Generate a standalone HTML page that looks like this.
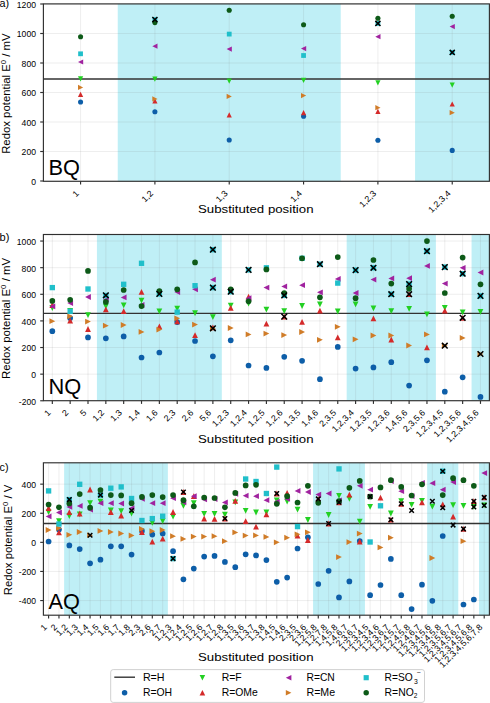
<!DOCTYPE html>
<html><head><meta charset="utf-8"><style>html,body{margin:0;padding:0;background:#fff;}svg{display:block;}</style></head>
<body>
<svg width="490" height="703" viewBox="0 0 490 703" font-family='"Liberation Sans", sans-serif'>
<rect width="490" height="703" fill="#fff"/>
<rect x="117.73" y="3.90" width="223.00" height="177.40" fill="#bfeff6"/>
<rect x="415.07" y="3.90" width="74.33" height="177.40" fill="#bfeff6"/>
<line x1="43.4" x2="489.4" y1="181.00" y2="181.00" stroke="#808080" stroke-opacity="0.15" stroke-width="0.9"/>
<line x1="43.4" x2="489.4" y1="151.50" y2="151.50" stroke="#808080" stroke-opacity="0.15" stroke-width="0.9"/>
<line x1="43.4" x2="489.4" y1="122.00" y2="122.00" stroke="#808080" stroke-opacity="0.15" stroke-width="0.9"/>
<line x1="43.4" x2="489.4" y1="92.50" y2="92.50" stroke="#808080" stroke-opacity="0.15" stroke-width="0.9"/>
<line x1="43.4" x2="489.4" y1="63.00" y2="63.00" stroke="#808080" stroke-opacity="0.15" stroke-width="0.9"/>
<line x1="43.4" x2="489.4" y1="33.50" y2="33.50" stroke="#808080" stroke-opacity="0.15" stroke-width="0.9"/>
<line x1="43.4" x2="489.4" y1="4.00" y2="4.00" stroke="#808080" stroke-opacity="0.15" stroke-width="0.9"/>
<line x1="80.57" x2="80.57" y1="3.9" y2="181.3" stroke="#808080" stroke-opacity="0.15" stroke-width="0.9"/>
<line x1="154.90" x2="154.90" y1="3.9" y2="181.3" stroke="#808080" stroke-opacity="0.15" stroke-width="0.9"/>
<line x1="229.23" x2="229.23" y1="3.9" y2="181.3" stroke="#808080" stroke-opacity="0.15" stroke-width="0.9"/>
<line x1="303.57" x2="303.57" y1="3.9" y2="181.3" stroke="#808080" stroke-opacity="0.15" stroke-width="0.9"/>
<line x1="377.90" x2="377.90" y1="3.9" y2="181.3" stroke="#808080" stroke-opacity="0.15" stroke-width="0.9"/>
<line x1="452.23" x2="452.23" y1="3.9" y2="181.3" stroke="#808080" stroke-opacity="0.15" stroke-width="0.9"/>
<text x="48.60" y="174.60" font-size="22" textLength="31.41" lengthAdjust="spacingAndGlyphs" fill="#000">BQ</text>
<line x1="43.4" x2="489.4" y1="79.05" y2="79.05" stroke="#333" stroke-width="1.4"/>
<circle cx="80.57" cy="102.00" r="2.55" fill="#0d5ea8"/>
<path d="M80.57,81.50L83.17,76.30L77.97,76.30Z" fill="#22d022"/>
<path d="M80.57,91.70L83.17,96.90L77.97,96.90Z" fill="#d42a2a"/>
<path d="M77.97,62.00L83.17,59.40L83.17,64.60Z" fill="#a0229f"/>
<path d="M83.17,87.40L77.97,84.80L77.97,90.00Z" fill="#d07c28"/>
<rect x="78.17" y="51.41" width="4.78" height="4.78" fill="#20bfca"/>
<circle cx="80.57" cy="36.70" r="2.55" fill="#0d5a18"/>
<circle cx="154.90" cy="111.70" r="2.55" fill="#0d5ea8"/>
<path d="M154.90,81.70L157.50,76.50L152.30,76.50Z" fill="#22d022"/>
<path d="M154.90,98.20L157.50,103.40L152.30,103.40Z" fill="#d42a2a"/>
<path d="M152.30,46.20L157.50,43.60L157.50,48.80Z" fill="#a0229f"/>
<path d="M157.50,98.90L152.30,96.30L152.30,101.50Z" fill="#d07c28"/>
<rect x="152.51" y="17.21" width="4.78" height="4.78" fill="#20bfca"/>
<circle cx="154.90" cy="22.60" r="2.55" fill="#0d5a18"/>
<path d="M152.35,17.05L157.45,22.15M157.45,17.05L152.35,22.15" stroke="#000" stroke-width="1.5" fill="none"/>
<circle cx="229.23" cy="140.00" r="2.55" fill="#0d5ea8"/>
<path d="M229.23,83.70L231.83,78.50L226.63,78.50Z" fill="#22d022"/>
<path d="M229.23,112.20L231.83,117.40L226.63,117.40Z" fill="#d42a2a"/>
<path d="M226.63,49.10L231.83,46.50L231.83,51.70Z" fill="#a0229f"/>
<path d="M231.83,96.40L226.63,93.80L226.63,99.00Z" fill="#d07c28"/>
<rect x="226.84" y="31.71" width="4.78" height="4.78" fill="#20bfca"/>
<circle cx="229.23" cy="10.20" r="2.55" fill="#0d5a18"/>
<circle cx="303.57" cy="116.30" r="2.55" fill="#0d5ea8"/>
<path d="M303.57,83.00L306.17,77.80L300.97,77.80Z" fill="#22d022"/>
<path d="M303.57,110.10L306.17,115.30L300.97,115.30Z" fill="#d42a2a"/>
<path d="M300.97,48.60L306.17,46.00L306.17,51.20Z" fill="#a0229f"/>
<path d="M306.17,95.60L300.97,93.00L300.97,98.20Z" fill="#d07c28"/>
<rect x="301.17" y="53.11" width="4.78" height="4.78" fill="#20bfca"/>
<circle cx="303.57" cy="24.70" r="2.55" fill="#0d5a18"/>
<circle cx="377.90" cy="140.20" r="2.55" fill="#0d5ea8"/>
<path d="M377.90,85.40L380.50,80.20L375.30,80.20Z" fill="#22d022"/>
<path d="M377.90,108.80L380.50,114.00L375.30,114.00Z" fill="#d42a2a"/>
<path d="M375.30,36.70L380.50,34.10L380.50,39.30Z" fill="#a0229f"/>
<path d="M380.50,107.70L375.30,105.10L375.30,110.30Z" fill="#d07c28"/>
<rect x="375.51" y="21.01" width="4.78" height="4.78" fill="#20bfca"/>
<circle cx="377.90" cy="18.20" r="2.55" fill="#0d5a18"/>
<path d="M375.35,20.85L380.45,25.95M380.45,20.85L375.35,25.95" stroke="#000" stroke-width="1.5" fill="none"/>
<circle cx="452.23" cy="150.40" r="2.55" fill="#0d5ea8"/>
<path d="M452.23,87.70L454.83,82.50L449.63,82.50Z" fill="#22d022"/>
<path d="M452.23,101.40L454.83,106.60L449.63,106.60Z" fill="#d42a2a"/>
<path d="M449.63,26.60L454.83,24.00L454.83,29.20Z" fill="#a0229f"/>
<path d="M454.83,112.70L449.63,110.10L449.63,115.30Z" fill="#d07c28"/>
<rect x="449.84" y="50.01" width="4.78" height="4.78" fill="#20bfca"/>
<circle cx="452.23" cy="16.20" r="2.55" fill="#0d5a18"/>
<path d="M449.69,49.85L454.78,54.95M454.78,49.85L449.69,54.95" stroke="#000" stroke-width="1.5" fill="none"/>
<rect x="43.4" y="3.9" width="446.0" height="177.4" fill="none" stroke="#303030" stroke-width="1.15"/>
<line x1="40.199999999999996" x2="43.4" y1="181.00" y2="181.00" stroke="#303030" stroke-width="1.15"/>
<text x="36.00" y="184.90" font-size="8.5" text-anchor="end" textLength="4.80" lengthAdjust="spacingAndGlyphs" fill="#000">0</text>
<line x1="40.199999999999996" x2="43.4" y1="151.50" y2="151.50" stroke="#303030" stroke-width="1.15"/>
<text x="36.00" y="155.40" font-size="8.5" text-anchor="end" textLength="14.41" lengthAdjust="spacingAndGlyphs" fill="#000">200</text>
<line x1="40.199999999999996" x2="43.4" y1="122.00" y2="122.00" stroke="#303030" stroke-width="1.15"/>
<text x="36.00" y="125.90" font-size="8.5" text-anchor="end" textLength="14.41" lengthAdjust="spacingAndGlyphs" fill="#000">400</text>
<line x1="40.199999999999996" x2="43.4" y1="92.50" y2="92.50" stroke="#303030" stroke-width="1.15"/>
<text x="36.00" y="96.40" font-size="8.5" text-anchor="end" textLength="14.41" lengthAdjust="spacingAndGlyphs" fill="#000">600</text>
<line x1="40.199999999999996" x2="43.4" y1="63.00" y2="63.00" stroke="#303030" stroke-width="1.15"/>
<text x="36.00" y="66.90" font-size="8.5" text-anchor="end" textLength="14.41" lengthAdjust="spacingAndGlyphs" fill="#000">800</text>
<line x1="40.199999999999996" x2="43.4" y1="33.50" y2="33.50" stroke="#303030" stroke-width="1.15"/>
<text x="36.00" y="37.40" font-size="8.5" text-anchor="end" textLength="19.21" lengthAdjust="spacingAndGlyphs" fill="#000">1000</text>
<line x1="40.199999999999996" x2="43.4" y1="4.00" y2="4.00" stroke="#303030" stroke-width="1.15"/>
<text x="36.00" y="7.90" font-size="8.5" text-anchor="end" textLength="19.21" lengthAdjust="spacingAndGlyphs" fill="#000">1200</text>
<line x1="80.57" x2="80.57" y1="181.3" y2="184.5" stroke="#303030" stroke-width="1.15"/>
<text transform="translate(79.47,193.90) rotate(-45)" x="0" y="0" font-size="8.6" text-anchor="end" textLength="4.96" lengthAdjust="spacingAndGlyphs" fill="#000">1</text>
<line x1="154.90" x2="154.90" y1="181.3" y2="184.5" stroke="#303030" stroke-width="1.15"/>
<text transform="translate(153.80,193.90) rotate(-45)" x="0" y="0" font-size="8.6" text-anchor="end" textLength="12.40" lengthAdjust="spacingAndGlyphs" fill="#000">1,2</text>
<line x1="229.23" x2="229.23" y1="181.3" y2="184.5" stroke="#303030" stroke-width="1.15"/>
<text transform="translate(228.13,193.90) rotate(-45)" x="0" y="0" font-size="8.6" text-anchor="end" textLength="12.40" lengthAdjust="spacingAndGlyphs" fill="#000">1,3</text>
<line x1="303.57" x2="303.57" y1="181.3" y2="184.5" stroke="#303030" stroke-width="1.15"/>
<text transform="translate(302.47,193.90) rotate(-45)" x="0" y="0" font-size="8.6" text-anchor="end" textLength="12.40" lengthAdjust="spacingAndGlyphs" fill="#000">1,4</text>
<line x1="377.90" x2="377.90" y1="181.3" y2="184.5" stroke="#303030" stroke-width="1.15"/>
<text transform="translate(376.80,193.90) rotate(-45)" x="0" y="0" font-size="8.6" text-anchor="end" textLength="19.84" lengthAdjust="spacingAndGlyphs" fill="#000">1,2,3</text>
<line x1="452.23" x2="452.23" y1="181.3" y2="184.5" stroke="#303030" stroke-width="1.15"/>
<text transform="translate(451.13,193.90) rotate(-45)" x="0" y="0" font-size="8.6" text-anchor="end" textLength="27.28" lengthAdjust="spacingAndGlyphs" fill="#000">1,2,3,4</text>
<text x="-0.5" y="7.3" font-size="10.4" textLength="9.60" lengthAdjust="spacingAndGlyphs" fill="#000">a)</text>
<text x="198.0" y="212.80" font-size="11.3" textLength="115.5" lengthAdjust="spacingAndGlyphs" fill="#000">Substituted position</text>
<g transform="translate(10.2,93.60) rotate(-90)"><text x="0" y="0" font-size="10.6" text-anchor="middle" fill="#000" textLength="120.5" lengthAdjust="spacingAndGlyphs">Redox potential E<tspan font-size="7.3" dy="-4.2">0</tspan><tspan dy="4.2"> / mV</tspan></text></g>
<rect x="96.92" y="234.50" width="124.88" height="166.20" fill="#bfeff6"/>
<rect x="346.68" y="234.50" width="89.20" height="166.20" fill="#bfeff6"/>
<rect x="471.56" y="234.50" width="17.84" height="166.20" fill="#bfeff6"/>
<line x1="43.4" x2="489.4" y1="400.77" y2="400.77" stroke="#808080" stroke-opacity="0.15" stroke-width="0.9"/>
<line x1="43.4" x2="489.4" y1="374.15" y2="374.15" stroke="#808080" stroke-opacity="0.15" stroke-width="0.9"/>
<line x1="43.4" x2="489.4" y1="347.53" y2="347.53" stroke="#808080" stroke-opacity="0.15" stroke-width="0.9"/>
<line x1="43.4" x2="489.4" y1="320.91" y2="320.91" stroke="#808080" stroke-opacity="0.15" stroke-width="0.9"/>
<line x1="43.4" x2="489.4" y1="294.29" y2="294.29" stroke="#808080" stroke-opacity="0.15" stroke-width="0.9"/>
<line x1="43.4" x2="489.4" y1="267.67" y2="267.67" stroke="#808080" stroke-opacity="0.15" stroke-width="0.9"/>
<line x1="43.4" x2="489.4" y1="241.05" y2="241.05" stroke="#808080" stroke-opacity="0.15" stroke-width="0.9"/>
<line x1="52.32" x2="52.32" y1="234.5" y2="400.7" stroke="#808080" stroke-opacity="0.15" stroke-width="0.9"/>
<line x1="70.16" x2="70.16" y1="234.5" y2="400.7" stroke="#808080" stroke-opacity="0.15" stroke-width="0.9"/>
<line x1="88.00" x2="88.00" y1="234.5" y2="400.7" stroke="#808080" stroke-opacity="0.15" stroke-width="0.9"/>
<line x1="105.84" x2="105.84" y1="234.5" y2="400.7" stroke="#808080" stroke-opacity="0.15" stroke-width="0.9"/>
<line x1="123.68" x2="123.68" y1="234.5" y2="400.7" stroke="#808080" stroke-opacity="0.15" stroke-width="0.9"/>
<line x1="141.52" x2="141.52" y1="234.5" y2="400.7" stroke="#808080" stroke-opacity="0.15" stroke-width="0.9"/>
<line x1="159.36" x2="159.36" y1="234.5" y2="400.7" stroke="#808080" stroke-opacity="0.15" stroke-width="0.9"/>
<line x1="177.20" x2="177.20" y1="234.5" y2="400.7" stroke="#808080" stroke-opacity="0.15" stroke-width="0.9"/>
<line x1="195.04" x2="195.04" y1="234.5" y2="400.7" stroke="#808080" stroke-opacity="0.15" stroke-width="0.9"/>
<line x1="212.88" x2="212.88" y1="234.5" y2="400.7" stroke="#808080" stroke-opacity="0.15" stroke-width="0.9"/>
<line x1="230.72" x2="230.72" y1="234.5" y2="400.7" stroke="#808080" stroke-opacity="0.15" stroke-width="0.9"/>
<line x1="248.56" x2="248.56" y1="234.5" y2="400.7" stroke="#808080" stroke-opacity="0.15" stroke-width="0.9"/>
<line x1="266.40" x2="266.40" y1="234.5" y2="400.7" stroke="#808080" stroke-opacity="0.15" stroke-width="0.9"/>
<line x1="284.24" x2="284.24" y1="234.5" y2="400.7" stroke="#808080" stroke-opacity="0.15" stroke-width="0.9"/>
<line x1="302.08" x2="302.08" y1="234.5" y2="400.7" stroke="#808080" stroke-opacity="0.15" stroke-width="0.9"/>
<line x1="319.92" x2="319.92" y1="234.5" y2="400.7" stroke="#808080" stroke-opacity="0.15" stroke-width="0.9"/>
<line x1="337.76" x2="337.76" y1="234.5" y2="400.7" stroke="#808080" stroke-opacity="0.15" stroke-width="0.9"/>
<line x1="355.60" x2="355.60" y1="234.5" y2="400.7" stroke="#808080" stroke-opacity="0.15" stroke-width="0.9"/>
<line x1="373.44" x2="373.44" y1="234.5" y2="400.7" stroke="#808080" stroke-opacity="0.15" stroke-width="0.9"/>
<line x1="391.28" x2="391.28" y1="234.5" y2="400.7" stroke="#808080" stroke-opacity="0.15" stroke-width="0.9"/>
<line x1="409.12" x2="409.12" y1="234.5" y2="400.7" stroke="#808080" stroke-opacity="0.15" stroke-width="0.9"/>
<line x1="426.96" x2="426.96" y1="234.5" y2="400.7" stroke="#808080" stroke-opacity="0.15" stroke-width="0.9"/>
<line x1="444.80" x2="444.80" y1="234.5" y2="400.7" stroke="#808080" stroke-opacity="0.15" stroke-width="0.9"/>
<line x1="462.64" x2="462.64" y1="234.5" y2="400.7" stroke="#808080" stroke-opacity="0.15" stroke-width="0.9"/>
<line x1="480.48" x2="480.48" y1="234.5" y2="400.7" stroke="#808080" stroke-opacity="0.15" stroke-width="0.9"/>
<text x="48.60" y="394.00" font-size="22" textLength="32.73" lengthAdjust="spacingAndGlyphs" fill="#000">NQ</text>
<line x1="43.4" x2="489.4" y1="313.40" y2="313.40" stroke="#333" stroke-width="1.4"/>
<circle cx="52.32" cy="331.20" r="2.84" fill="#0d5ea8"/>
<path d="M52.32,310.90L55.22,305.10L49.42,305.10Z" fill="#22d022"/>
<path d="M52.32,302.10L55.22,307.90L49.42,307.90Z" fill="#d42a2a"/>
<path d="M49.42,306.40L55.22,303.50L55.22,309.30Z" fill="#a0229f"/>
<path d="M55.22,321.20L49.42,318.30L49.42,324.10Z" fill="#d07c28"/>
<rect x="49.65" y="284.93" width="5.34" height="5.34" fill="#20bfca"/>
<circle cx="52.32" cy="300.90" r="2.84" fill="#0d5a18"/>
<circle cx="70.16" cy="318.00" r="2.84" fill="#0d5ea8"/>
<path d="M70.16,313.90L73.06,308.10L67.26,308.10Z" fill="#22d022"/>
<path d="M70.16,317.80L73.06,323.60L67.26,323.60Z" fill="#d42a2a"/>
<path d="M67.26,303.10L73.06,300.20L73.06,306.00Z" fill="#a0229f"/>
<path d="M73.06,316.30L67.26,313.40L67.26,319.20Z" fill="#d07c28"/>
<rect x="67.49" y="308.63" width="5.34" height="5.34" fill="#20bfca"/>
<circle cx="70.16" cy="299.80" r="2.84" fill="#0d5a18"/>
<circle cx="88.00" cy="337.40" r="2.84" fill="#0d5ea8"/>
<path d="M88.00,318.10L90.90,312.30L85.10,312.30Z" fill="#22d022"/>
<path d="M88.00,326.10L90.90,331.90L85.10,331.90Z" fill="#d42a2a"/>
<path d="M85.10,297.00L90.90,294.10L90.90,299.90Z" fill="#a0229f"/>
<path d="M90.90,321.60L85.10,318.70L85.10,324.50Z" fill="#d07c28"/>
<rect x="85.33" y="286.33" width="5.34" height="5.34" fill="#20bfca"/>
<circle cx="88.00" cy="270.90" r="2.84" fill="#0d5a18"/>
<circle cx="105.84" cy="338.30" r="2.84" fill="#0d5ea8"/>
<path d="M105.84,309.30L108.74,303.50L102.94,303.50Z" fill="#22d022"/>
<path d="M105.84,306.40L108.74,312.20L102.94,312.20Z" fill="#d42a2a"/>
<path d="M102.94,299.60L108.74,296.70L108.74,302.50Z" fill="#a0229f"/>
<path d="M108.74,325.70L102.94,322.80L102.94,328.60Z" fill="#d07c28"/>
<rect x="103.17" y="292.83" width="5.34" height="5.34" fill="#20bfca"/>
<circle cx="105.84" cy="301.90" r="2.84" fill="#0d5a18"/>
<path d="M103.00,292.46L108.68,298.14M108.68,292.46L103.00,298.14" stroke="#000" stroke-width="1.5" fill="none"/>
<circle cx="123.68" cy="336.40" r="2.84" fill="#0d5ea8"/>
<path d="M123.68,308.20L126.58,302.40L120.78,302.40Z" fill="#22d022"/>
<path d="M123.68,308.20L126.58,314.00L120.78,314.00Z" fill="#d42a2a"/>
<path d="M120.78,297.40L126.58,294.50L126.58,300.30Z" fill="#a0229f"/>
<path d="M126.58,325.00L120.78,322.10L120.78,327.90Z" fill="#d07c28"/>
<rect x="121.01" y="281.63" width="5.34" height="5.34" fill="#20bfca"/>
<circle cx="123.68" cy="290.00" r="2.84" fill="#0d5a18"/>
<circle cx="141.52" cy="357.50" r="2.84" fill="#0d5ea8"/>
<path d="M141.52,303.60L144.42,297.80L138.62,297.80Z" fill="#22d022"/>
<path d="M141.52,289.00L144.42,294.80L138.62,294.80Z" fill="#d42a2a"/>
<path d="M138.62,305.00L144.42,302.10L144.42,307.90Z" fill="#a0229f"/>
<path d="M144.42,331.90L138.62,329.00L138.62,334.80Z" fill="#d07c28"/>
<rect x="138.85" y="260.63" width="5.34" height="5.34" fill="#20bfca"/>
<circle cx="141.52" cy="306.10" r="2.84" fill="#0d5a18"/>
<circle cx="159.36" cy="352.50" r="2.84" fill="#0d5ea8"/>
<path d="M159.36,314.30L162.26,308.50L156.46,308.50Z" fill="#22d022"/>
<path d="M159.36,323.50L162.26,329.30L156.46,329.30Z" fill="#d42a2a"/>
<path d="M162.26,329.60L156.46,326.70L156.46,332.50Z" fill="#d07c28"/>
<rect x="156.69" y="291.23" width="5.34" height="5.34" fill="#20bfca"/>
<circle cx="159.36" cy="291.00" r="2.84" fill="#0d5a18"/>
<path d="M156.52,291.06L162.20,296.74M162.20,291.06L156.52,296.74" stroke="#000" stroke-width="1.5" fill="none"/>
<circle cx="177.20" cy="322.10" r="2.84" fill="#0d5ea8"/>
<path d="M177.20,311.50L180.10,305.70L174.30,305.70Z" fill="#22d022"/>
<path d="M177.20,318.50L180.10,324.30L174.30,324.30Z" fill="#d42a2a"/>
<path d="M174.30,292.10L180.10,289.20L180.10,295.00Z" fill="#a0229f"/>
<path d="M180.10,318.30L174.30,315.40L174.30,321.20Z" fill="#d07c28"/>
<rect x="174.53" y="309.43" width="5.34" height="5.34" fill="#20bfca"/>
<circle cx="177.20" cy="289.30" r="2.84" fill="#0d5a18"/>
<circle cx="195.04" cy="341.00" r="2.84" fill="#0d5ea8"/>
<path d="M195.04,316.00L197.94,310.20L192.14,310.20Z" fill="#22d022"/>
<path d="M195.04,332.20L197.94,338.00L192.14,338.00Z" fill="#d42a2a"/>
<path d="M192.14,289.30L197.94,286.40L197.94,292.20Z" fill="#a0229f"/>
<path d="M197.94,324.60L192.14,321.70L192.14,327.50Z" fill="#d07c28"/>
<rect x="192.37" y="283.03" width="5.34" height="5.34" fill="#20bfca"/>
<circle cx="195.04" cy="262.40" r="2.84" fill="#0d5a18"/>
<circle cx="212.88" cy="356.30" r="2.84" fill="#0d5ea8"/>
<path d="M212.88,320.00L215.78,314.20L209.98,314.20Z" fill="#22d022"/>
<path d="M212.88,324.50L215.78,330.30L209.98,330.30Z" fill="#d42a2a"/>
<path d="M209.98,279.70L215.78,276.80L215.78,282.60Z" fill="#a0229f"/>
<path d="M215.78,328.50L209.98,325.60L209.98,331.40Z" fill="#d07c28"/>
<rect x="210.21" y="247.03" width="5.34" height="5.34" fill="#20bfca"/>
<rect x="210.21" y="284.93" width="5.34" height="5.34" fill="#20bfca"/>
<path d="M210.04,246.86L215.72,252.54M215.72,246.86L210.04,252.54" stroke="#000" stroke-width="1.5" fill="none"/>
<path d="M210.04,284.76L215.72,290.44M215.72,284.76L210.04,290.44" stroke="#000" stroke-width="1.5" fill="none"/>
<path d="M210.04,325.46L215.72,331.14M215.72,325.46L210.04,331.14" stroke="#000" stroke-width="1.5" fill="none"/>
<circle cx="230.72" cy="340.30" r="2.84" fill="#0d5ea8"/>
<path d="M230.72,308.60L233.62,302.80L227.82,302.80Z" fill="#22d022"/>
<path d="M230.72,305.00L233.62,310.80L227.82,310.80Z" fill="#d42a2a"/>
<path d="M233.62,328.00L227.82,325.10L227.82,330.90Z" fill="#d07c28"/>
<rect x="228.05" y="289.03" width="5.34" height="5.34" fill="#20bfca"/>
<circle cx="230.72" cy="289.30" r="2.84" fill="#0d5a18"/>
<path d="M227.88,288.86L233.56,294.54M233.56,288.86L227.88,294.54" stroke="#000" stroke-width="1.5" fill="none"/>
<circle cx="248.56" cy="365.50" r="2.84" fill="#0d5ea8"/>
<path d="M248.56,306.60L251.46,300.80L245.66,300.80Z" fill="#22d022"/>
<path d="M248.56,293.70L251.46,299.50L245.66,299.50Z" fill="#d42a2a"/>
<path d="M245.66,298.20L251.46,295.30L251.46,301.10Z" fill="#a0229f"/>
<path d="M251.46,334.40L245.66,331.50L245.66,337.30Z" fill="#d07c28"/>
<rect x="245.89" y="267.23" width="5.34" height="5.34" fill="#20bfca"/>
<circle cx="248.56" cy="301.30" r="2.84" fill="#0d5a18"/>
<path d="M245.72,267.06L251.40,272.74M251.40,267.06L245.72,272.74" stroke="#000" stroke-width="1.5" fill="none"/>
<circle cx="266.40" cy="367.90" r="2.84" fill="#0d5ea8"/>
<path d="M266.40,312.50L269.30,306.70L263.50,306.70Z" fill="#22d022"/>
<path d="M266.40,320.80L269.30,326.60L263.50,326.60Z" fill="#d42a2a"/>
<path d="M263.50,287.60L269.30,284.70L269.30,290.50Z" fill="#a0229f"/>
<path d="M269.30,333.60L263.50,330.70L263.50,336.50Z" fill="#d07c28"/>
<rect x="263.73" y="265.13" width="5.34" height="5.34" fill="#20bfca"/>
<circle cx="266.40" cy="269.40" r="2.84" fill="#0d5a18"/>
<circle cx="284.24" cy="356.80" r="2.84" fill="#0d5ea8"/>
<path d="M284.24,314.10L287.14,308.30L281.34,308.30Z" fill="#22d022"/>
<path d="M284.24,313.70L287.14,319.50L281.34,319.50Z" fill="#d42a2a"/>
<path d="M281.34,286.40L287.14,283.50L287.14,289.30Z" fill="#a0229f"/>
<path d="M287.14,335.10L281.34,332.20L281.34,338.00Z" fill="#d07c28"/>
<rect x="281.57" y="292.73" width="5.34" height="5.34" fill="#20bfca"/>
<circle cx="284.24" cy="293.00" r="2.84" fill="#0d5a18"/>
<path d="M281.40,292.56L287.08,298.24M287.08,292.56L281.40,298.24" stroke="#000" stroke-width="1.5" fill="none"/>
<path d="M281.40,313.76L287.08,319.44M287.08,313.76L281.40,319.44" stroke="#000" stroke-width="1.5" fill="none"/>
<circle cx="302.08" cy="360.80" r="2.84" fill="#0d5ea8"/>
<path d="M302.08,308.90L304.98,303.10L299.18,303.10Z" fill="#22d022"/>
<path d="M302.08,318.90L304.98,324.70L299.18,324.70Z" fill="#d42a2a"/>
<path d="M299.18,285.20L304.98,282.30L304.98,288.10Z" fill="#a0229f"/>
<path d="M304.98,332.00L299.18,329.10L299.18,334.90Z" fill="#d07c28"/>
<rect x="299.41" y="255.63" width="5.34" height="5.34" fill="#20bfca"/>
<circle cx="302.08" cy="258.30" r="2.84" fill="#0d5a18"/>
<circle cx="319.92" cy="379.20" r="2.84" fill="#0d5ea8"/>
<path d="M319.92,307.30L322.82,301.50L317.02,301.50Z" fill="#22d022"/>
<path d="M319.92,307.80L322.82,313.60L317.02,313.60Z" fill="#d42a2a"/>
<path d="M317.02,292.30L322.82,289.40L322.82,295.20Z" fill="#a0229f"/>
<path d="M322.82,339.80L317.02,336.90L317.02,342.70Z" fill="#d07c28"/>
<rect x="317.25" y="261.53" width="5.34" height="5.34" fill="#20bfca"/>
<circle cx="319.92" cy="297.30" r="2.84" fill="#0d5a18"/>
<path d="M317.08,261.36L322.76,267.04M322.76,261.36L317.08,267.04" stroke="#000" stroke-width="1.5" fill="none"/>
<circle cx="337.76" cy="346.90" r="2.84" fill="#0d5ea8"/>
<path d="M337.76,314.40L340.66,308.60L334.86,308.60Z" fill="#22d022"/>
<path d="M337.76,334.50L340.66,340.30L334.86,340.30Z" fill="#d42a2a"/>
<path d="M334.86,278.90L340.66,276.00L340.66,281.80Z" fill="#a0229f"/>
<path d="M340.66,326.80L334.86,323.90L334.86,329.70Z" fill="#d07c28"/>
<rect x="335.09" y="280.43" width="5.34" height="5.34" fill="#20bfca"/>
<circle cx="337.76" cy="257.10" r="2.84" fill="#0d5a18"/>
<circle cx="355.60" cy="368.60" r="2.84" fill="#0d5ea8"/>
<path d="M355.60,307.30L358.50,301.50L352.70,301.50Z" fill="#22d022"/>
<path d="M352.70,293.00L358.50,290.10L358.50,295.90Z" fill="#a0229f"/>
<path d="M358.50,339.30L352.70,336.40L352.70,342.20Z" fill="#d07c28"/>
<rect x="352.93" y="267.43" width="5.34" height="5.34" fill="#20bfca"/>
<circle cx="355.60" cy="298.20" r="2.84" fill="#0d5a18"/>
<path d="M352.76,267.26L358.44,272.94M358.44,267.26L352.76,272.94" stroke="#000" stroke-width="1.5" fill="none"/>
<circle cx="373.44" cy="367.40" r="2.84" fill="#0d5ea8"/>
<path d="M373.44,311.30L376.34,305.50L370.54,305.50Z" fill="#22d022"/>
<path d="M373.44,315.40L376.34,321.20L370.54,321.20Z" fill="#d42a2a"/>
<path d="M370.54,279.60L376.34,276.70L376.34,282.50Z" fill="#a0229f"/>
<path d="M376.34,335.50L370.54,332.60L370.54,338.40Z" fill="#d07c28"/>
<rect x="370.77" y="265.13" width="5.34" height="5.34" fill="#20bfca"/>
<circle cx="373.44" cy="260.00" r="2.84" fill="#0d5a18"/>
<path d="M370.60,264.96L376.28,270.64M376.28,264.96L370.60,270.64" stroke="#000" stroke-width="1.5" fill="none"/>
<circle cx="391.28" cy="362.20" r="2.84" fill="#0d5ea8"/>
<path d="M391.28,314.10L394.18,308.30L388.38,308.30Z" fill="#22d022"/>
<path d="M391.28,336.60L394.18,342.40L388.38,342.40Z" fill="#d42a2a"/>
<path d="M388.38,278.40L394.18,275.50L394.18,281.30Z" fill="#a0229f"/>
<path d="M394.18,335.50L388.38,332.60L388.38,338.40Z" fill="#d07c28"/>
<rect x="388.61" y="291.53" width="5.34" height="5.34" fill="#20bfca"/>
<circle cx="391.28" cy="283.60" r="2.84" fill="#0d5a18"/>
<path d="M388.44,291.36L394.12,297.04M394.12,291.36L388.44,297.04" stroke="#000" stroke-width="1.5" fill="none"/>
<circle cx="409.12" cy="385.60" r="2.84" fill="#0d5ea8"/>
<path d="M409.12,311.80L412.02,306.00L406.22,306.00Z" fill="#22d022"/>
<path d="M409.12,291.30L412.02,297.10L406.22,297.10Z" fill="#d42a2a"/>
<path d="M406.22,278.20L412.02,275.30L412.02,281.10Z" fill="#a0229f"/>
<path d="M412.02,345.50L406.22,342.60L406.22,348.40Z" fill="#d07c28"/>
<rect x="406.45" y="281.43" width="5.34" height="5.34" fill="#20bfca"/>
<circle cx="409.12" cy="288.80" r="2.84" fill="#0d5a18"/>
<path d="M406.28,281.26L411.96,286.94M411.96,281.26L406.28,286.94" stroke="#000" stroke-width="1.5" fill="none"/>
<path d="M406.28,291.36L411.96,297.04M411.96,291.36L406.28,297.04" stroke="#000" stroke-width="1.5" fill="none"/>
<circle cx="426.96" cy="360.30" r="2.84" fill="#0d5ea8"/>
<path d="M426.96,317.20L429.86,311.40L424.06,311.40Z" fill="#22d022"/>
<path d="M426.96,344.40L429.86,350.20L424.06,350.20Z" fill="#d42a2a"/>
<path d="M424.06,265.90L429.86,263.00L429.86,268.80Z" fill="#a0229f"/>
<path d="M429.86,334.40L424.06,331.50L424.06,337.30Z" fill="#d07c28"/>
<rect x="424.29" y="248.53" width="5.34" height="5.34" fill="#20bfca"/>
<circle cx="426.96" cy="241.10" r="2.84" fill="#0d5a18"/>
<path d="M424.12,248.36L429.80,254.04M429.80,248.36L424.12,254.04" stroke="#000" stroke-width="1.5" fill="none"/>
<circle cx="444.80" cy="391.70" r="2.84" fill="#0d5ea8"/>
<path d="M444.80,310.80L447.70,305.00L441.90,305.00Z" fill="#22d022"/>
<path d="M444.80,307.80L447.70,313.60L441.90,313.60Z" fill="#d42a2a"/>
<path d="M441.90,283.60L447.70,280.70L447.70,286.50Z" fill="#a0229f"/>
<path d="M447.70,345.70L441.90,342.80L441.90,348.60Z" fill="#d07c28"/>
<rect x="442.13" y="264.43" width="5.34" height="5.34" fill="#20bfca"/>
<circle cx="444.80" cy="293.00" r="2.84" fill="#0d5a18"/>
<path d="M441.96,264.26L447.64,269.94M447.64,264.26L441.96,269.94" stroke="#000" stroke-width="1.5" fill="none"/>
<path d="M441.96,342.86L447.64,348.54M447.64,342.86L441.96,348.54" stroke="#000" stroke-width="1.5" fill="none"/>
<circle cx="462.64" cy="377.30" r="2.84" fill="#0d5ea8"/>
<path d="M462.64,315.30L465.54,309.50L459.74,309.50Z" fill="#22d022"/>
<path d="M462.64,314.90L465.54,320.70L459.74,320.70Z" fill="#d42a2a"/>
<path d="M459.74,267.80L465.54,264.90L465.54,270.70Z" fill="#a0229f"/>
<path d="M465.54,337.90L459.74,335.00L459.74,340.80Z" fill="#d07c28"/>
<rect x="459.97" y="271.03" width="5.34" height="5.34" fill="#20bfca"/>
<circle cx="462.64" cy="257.60" r="2.84" fill="#0d5a18"/>
<path d="M459.80,270.86L465.48,276.54M465.48,270.86L459.80,276.54" stroke="#000" stroke-width="1.5" fill="none"/>
<path d="M459.80,314.96L465.48,320.64M465.48,314.96L459.80,320.64" stroke="#000" stroke-width="1.5" fill="none"/>
<circle cx="480.48" cy="396.90" r="2.84" fill="#0d5ea8"/>
<path d="M480.48,314.80L483.38,309.00L477.58,309.00Z" fill="#22d022"/>
<path d="M477.58,272.50L483.38,269.60L483.38,275.40Z" fill="#a0229f"/>
<path d="M483.38,354.00L477.58,351.10L477.58,356.90Z" fill="#d07c28"/>
<rect x="477.81" y="293.23" width="5.34" height="5.34" fill="#20bfca"/>
<circle cx="480.48" cy="284.30" r="2.84" fill="#0d5a18"/>
<path d="M477.64,293.06L483.32,298.74M483.32,293.06L477.64,298.74" stroke="#000" stroke-width="1.5" fill="none"/>
<path d="M477.64,351.16L483.32,356.84M483.32,351.16L477.64,356.84" stroke="#000" stroke-width="1.5" fill="none"/>
<rect x="43.4" y="234.5" width="446.0" height="166.2" fill="none" stroke="#303030" stroke-width="1.15"/>
<line x1="40.199999999999996" x2="43.4" y1="400.77" y2="400.77" stroke="#303030" stroke-width="1.15"/>
<text x="36.00" y="404.67" font-size="8.5" text-anchor="end" textLength="17.13" lengthAdjust="spacingAndGlyphs" fill="#000">-200</text>
<line x1="40.199999999999996" x2="43.4" y1="374.15" y2="374.15" stroke="#303030" stroke-width="1.15"/>
<text x="36.00" y="378.05" font-size="8.5" text-anchor="end" textLength="4.80" lengthAdjust="spacingAndGlyphs" fill="#000">0</text>
<line x1="40.199999999999996" x2="43.4" y1="347.53" y2="347.53" stroke="#303030" stroke-width="1.15"/>
<text x="36.00" y="351.43" font-size="8.5" text-anchor="end" textLength="14.41" lengthAdjust="spacingAndGlyphs" fill="#000">200</text>
<line x1="40.199999999999996" x2="43.4" y1="320.91" y2="320.91" stroke="#303030" stroke-width="1.15"/>
<text x="36.00" y="324.81" font-size="8.5" text-anchor="end" textLength="14.41" lengthAdjust="spacingAndGlyphs" fill="#000">400</text>
<line x1="40.199999999999996" x2="43.4" y1="294.29" y2="294.29" stroke="#303030" stroke-width="1.15"/>
<text x="36.00" y="298.19" font-size="8.5" text-anchor="end" textLength="14.41" lengthAdjust="spacingAndGlyphs" fill="#000">600</text>
<line x1="40.199999999999996" x2="43.4" y1="267.67" y2="267.67" stroke="#303030" stroke-width="1.15"/>
<text x="36.00" y="271.57" font-size="8.5" text-anchor="end" textLength="14.41" lengthAdjust="spacingAndGlyphs" fill="#000">800</text>
<line x1="40.199999999999996" x2="43.4" y1="241.05" y2="241.05" stroke="#303030" stroke-width="1.15"/>
<text x="36.00" y="244.95" font-size="8.5" text-anchor="end" textLength="19.21" lengthAdjust="spacingAndGlyphs" fill="#000">1000</text>
<line x1="52.32" x2="52.32" y1="400.7" y2="403.9" stroke="#303030" stroke-width="1.15"/>
<text transform="translate(51.22,413.30) rotate(-45)" x="0" y="0" font-size="8.6" text-anchor="end" textLength="4.96" lengthAdjust="spacingAndGlyphs" fill="#000">1</text>
<line x1="70.16" x2="70.16" y1="400.7" y2="403.9" stroke="#303030" stroke-width="1.15"/>
<text transform="translate(69.06,413.30) rotate(-45)" x="0" y="0" font-size="8.6" text-anchor="end" textLength="4.96" lengthAdjust="spacingAndGlyphs" fill="#000">2</text>
<line x1="88.00" x2="88.00" y1="400.7" y2="403.9" stroke="#303030" stroke-width="1.15"/>
<text transform="translate(86.90,413.30) rotate(-45)" x="0" y="0" font-size="8.6" text-anchor="end" textLength="4.96" lengthAdjust="spacingAndGlyphs" fill="#000">5</text>
<line x1="105.84" x2="105.84" y1="400.7" y2="403.9" stroke="#303030" stroke-width="1.15"/>
<text transform="translate(104.74,413.30) rotate(-45)" x="0" y="0" font-size="8.6" text-anchor="end" textLength="12.40" lengthAdjust="spacingAndGlyphs" fill="#000">1,2</text>
<line x1="123.68" x2="123.68" y1="400.7" y2="403.9" stroke="#303030" stroke-width="1.15"/>
<text transform="translate(122.58,413.30) rotate(-45)" x="0" y="0" font-size="8.6" text-anchor="end" textLength="12.40" lengthAdjust="spacingAndGlyphs" fill="#000">1,3</text>
<line x1="141.52" x2="141.52" y1="400.7" y2="403.9" stroke="#303030" stroke-width="1.15"/>
<text transform="translate(140.42,413.30) rotate(-45)" x="0" y="0" font-size="8.6" text-anchor="end" textLength="12.40" lengthAdjust="spacingAndGlyphs" fill="#000">1,4</text>
<line x1="159.36" x2="159.36" y1="400.7" y2="403.9" stroke="#303030" stroke-width="1.15"/>
<text transform="translate(158.26,413.30) rotate(-45)" x="0" y="0" font-size="8.6" text-anchor="end" textLength="12.40" lengthAdjust="spacingAndGlyphs" fill="#000">1,6</text>
<line x1="177.20" x2="177.20" y1="400.7" y2="403.9" stroke="#303030" stroke-width="1.15"/>
<text transform="translate(176.10,413.30) rotate(-45)" x="0" y="0" font-size="8.6" text-anchor="end" textLength="12.40" lengthAdjust="spacingAndGlyphs" fill="#000">2,3</text>
<line x1="195.04" x2="195.04" y1="400.7" y2="403.9" stroke="#303030" stroke-width="1.15"/>
<text transform="translate(193.94,413.30) rotate(-45)" x="0" y="0" font-size="8.6" text-anchor="end" textLength="12.40" lengthAdjust="spacingAndGlyphs" fill="#000">2,6</text>
<line x1="212.88" x2="212.88" y1="400.7" y2="403.9" stroke="#303030" stroke-width="1.15"/>
<text transform="translate(211.78,413.30) rotate(-45)" x="0" y="0" font-size="8.6" text-anchor="end" textLength="12.40" lengthAdjust="spacingAndGlyphs" fill="#000">5,6</text>
<line x1="230.72" x2="230.72" y1="400.7" y2="403.9" stroke="#303030" stroke-width="1.15"/>
<text transform="translate(229.62,413.30) rotate(-45)" x="0" y="0" font-size="8.6" text-anchor="end" textLength="19.84" lengthAdjust="spacingAndGlyphs" fill="#000">1,2,3</text>
<line x1="248.56" x2="248.56" y1="400.7" y2="403.9" stroke="#303030" stroke-width="1.15"/>
<text transform="translate(247.46,413.30) rotate(-45)" x="0" y="0" font-size="8.6" text-anchor="end" textLength="19.84" lengthAdjust="spacingAndGlyphs" fill="#000">1,2,4</text>
<line x1="266.40" x2="266.40" y1="400.7" y2="403.9" stroke="#303030" stroke-width="1.15"/>
<text transform="translate(265.30,413.30) rotate(-45)" x="0" y="0" font-size="8.6" text-anchor="end" textLength="19.84" lengthAdjust="spacingAndGlyphs" fill="#000">1,2,5</text>
<line x1="284.24" x2="284.24" y1="400.7" y2="403.9" stroke="#303030" stroke-width="1.15"/>
<text transform="translate(283.14,413.30) rotate(-45)" x="0" y="0" font-size="8.6" text-anchor="end" textLength="19.84" lengthAdjust="spacingAndGlyphs" fill="#000">1,2,6</text>
<line x1="302.08" x2="302.08" y1="400.7" y2="403.9" stroke="#303030" stroke-width="1.15"/>
<text transform="translate(300.98,413.30) rotate(-45)" x="0" y="0" font-size="8.6" text-anchor="end" textLength="19.84" lengthAdjust="spacingAndGlyphs" fill="#000">1,3,5</text>
<line x1="319.92" x2="319.92" y1="400.7" y2="403.9" stroke="#303030" stroke-width="1.15"/>
<text transform="translate(318.82,413.30) rotate(-45)" x="0" y="0" font-size="8.6" text-anchor="end" textLength="19.84" lengthAdjust="spacingAndGlyphs" fill="#000">1,4,6</text>
<line x1="337.76" x2="337.76" y1="400.7" y2="403.9" stroke="#303030" stroke-width="1.15"/>
<text transform="translate(336.66,413.30) rotate(-45)" x="0" y="0" font-size="8.6" text-anchor="end" textLength="19.84" lengthAdjust="spacingAndGlyphs" fill="#000">2,3,5</text>
<line x1="355.60" x2="355.60" y1="400.7" y2="403.9" stroke="#303030" stroke-width="1.15"/>
<text transform="translate(354.50,413.30) rotate(-45)" x="0" y="0" font-size="8.6" text-anchor="end" textLength="27.28" lengthAdjust="spacingAndGlyphs" fill="#000">1,2,3,4</text>
<line x1="373.44" x2="373.44" y1="400.7" y2="403.9" stroke="#303030" stroke-width="1.15"/>
<text transform="translate(372.34,413.30) rotate(-45)" x="0" y="0" font-size="8.6" text-anchor="end" textLength="27.28" lengthAdjust="spacingAndGlyphs" fill="#000">1,2,3,5</text>
<line x1="391.28" x2="391.28" y1="400.7" y2="403.9" stroke="#303030" stroke-width="1.15"/>
<text transform="translate(390.18,413.30) rotate(-45)" x="0" y="0" font-size="8.6" text-anchor="end" textLength="27.28" lengthAdjust="spacingAndGlyphs" fill="#000">1,2,3,6</text>
<line x1="409.12" x2="409.12" y1="400.7" y2="403.9" stroke="#303030" stroke-width="1.15"/>
<text transform="translate(408.02,413.30) rotate(-45)" x="0" y="0" font-size="8.6" text-anchor="end" textLength="27.28" lengthAdjust="spacingAndGlyphs" fill="#000">1,4,5,6</text>
<line x1="426.96" x2="426.96" y1="400.7" y2="403.9" stroke="#303030" stroke-width="1.15"/>
<text transform="translate(425.86,413.30) rotate(-45)" x="0" y="0" font-size="8.6" text-anchor="end" textLength="27.28" lengthAdjust="spacingAndGlyphs" fill="#000">2,3,5,6</text>
<line x1="444.80" x2="444.80" y1="400.7" y2="403.9" stroke="#303030" stroke-width="1.15"/>
<text transform="translate(443.70,413.30) rotate(-45)" x="0" y="0" font-size="8.6" text-anchor="end" textLength="34.73" lengthAdjust="spacingAndGlyphs" fill="#000">1,2,3,4,5</text>
<line x1="462.64" x2="462.64" y1="400.7" y2="403.9" stroke="#303030" stroke-width="1.15"/>
<text transform="translate(461.54,413.30) rotate(-45)" x="0" y="0" font-size="8.6" text-anchor="end" textLength="34.73" lengthAdjust="spacingAndGlyphs" fill="#000">1,2,3,5,6</text>
<line x1="480.48" x2="480.48" y1="400.7" y2="403.9" stroke="#303030" stroke-width="1.15"/>
<text transform="translate(479.38,413.30) rotate(-45)" x="0" y="0" font-size="8.6" text-anchor="end" textLength="42.17" lengthAdjust="spacingAndGlyphs" fill="#000">1,2,3,4,5,6</text>
<text x="-0.5" y="240.5" font-size="10.4" textLength="9.81" lengthAdjust="spacingAndGlyphs" fill="#000">b)</text>
<text x="198.0" y="442.90" font-size="11.3" textLength="115.5" lengthAdjust="spacingAndGlyphs" fill="#000">Substituted position</text>
<g transform="translate(10.1,318.40) rotate(-90)"><text x="0" y="0" font-size="10.6" text-anchor="middle" fill="#000" textLength="121.0" lengthAdjust="spacingAndGlyphs">Redox potential E<tspan font-size="7.3" dy="-4.2">0</tspan><tspan dy="4.2"> / mV</tspan></text></g>
<rect x="64.14" y="462.80" width="103.72" height="152.40" fill="#bfeff6"/>
<rect x="313.07" y="462.80" width="51.86" height="152.40" fill="#bfeff6"/>
<rect x="427.17" y="462.80" width="31.12" height="152.40" fill="#bfeff6"/>
<rect x="479.03" y="462.80" width="10.37" height="152.40" fill="#bfeff6"/>
<line x1="43.4" x2="489.4" y1="600.55" y2="600.55" stroke="#808080" stroke-opacity="0.15" stroke-width="0.9"/>
<line x1="43.4" x2="489.4" y1="571.45" y2="571.45" stroke="#808080" stroke-opacity="0.15" stroke-width="0.9"/>
<line x1="43.4" x2="489.4" y1="542.35" y2="542.35" stroke="#808080" stroke-opacity="0.15" stroke-width="0.9"/>
<line x1="43.4" x2="489.4" y1="513.25" y2="513.25" stroke="#808080" stroke-opacity="0.15" stroke-width="0.9"/>
<line x1="43.4" x2="489.4" y1="484.15" y2="484.15" stroke="#808080" stroke-opacity="0.15" stroke-width="0.9"/>
<line x1="48.59" x2="48.59" y1="462.8" y2="615.2" stroke="#808080" stroke-opacity="0.15" stroke-width="0.9"/>
<line x1="58.96" x2="58.96" y1="462.8" y2="615.2" stroke="#808080" stroke-opacity="0.15" stroke-width="0.9"/>
<line x1="69.33" x2="69.33" y1="462.8" y2="615.2" stroke="#808080" stroke-opacity="0.15" stroke-width="0.9"/>
<line x1="79.70" x2="79.70" y1="462.8" y2="615.2" stroke="#808080" stroke-opacity="0.15" stroke-width="0.9"/>
<line x1="90.07" x2="90.07" y1="462.8" y2="615.2" stroke="#808080" stroke-opacity="0.15" stroke-width="0.9"/>
<line x1="100.45" x2="100.45" y1="462.8" y2="615.2" stroke="#808080" stroke-opacity="0.15" stroke-width="0.9"/>
<line x1="110.82" x2="110.82" y1="462.8" y2="615.2" stroke="#808080" stroke-opacity="0.15" stroke-width="0.9"/>
<line x1="121.19" x2="121.19" y1="462.8" y2="615.2" stroke="#808080" stroke-opacity="0.15" stroke-width="0.9"/>
<line x1="131.56" x2="131.56" y1="462.8" y2="615.2" stroke="#808080" stroke-opacity="0.15" stroke-width="0.9"/>
<line x1="141.93" x2="141.93" y1="462.8" y2="615.2" stroke="#808080" stroke-opacity="0.15" stroke-width="0.9"/>
<line x1="152.31" x2="152.31" y1="462.8" y2="615.2" stroke="#808080" stroke-opacity="0.15" stroke-width="0.9"/>
<line x1="162.68" x2="162.68" y1="462.8" y2="615.2" stroke="#808080" stroke-opacity="0.15" stroke-width="0.9"/>
<line x1="173.05" x2="173.05" y1="462.8" y2="615.2" stroke="#808080" stroke-opacity="0.15" stroke-width="0.9"/>
<line x1="183.42" x2="183.42" y1="462.8" y2="615.2" stroke="#808080" stroke-opacity="0.15" stroke-width="0.9"/>
<line x1="193.80" x2="193.80" y1="462.8" y2="615.2" stroke="#808080" stroke-opacity="0.15" stroke-width="0.9"/>
<line x1="204.17" x2="204.17" y1="462.8" y2="615.2" stroke="#808080" stroke-opacity="0.15" stroke-width="0.9"/>
<line x1="214.54" x2="214.54" y1="462.8" y2="615.2" stroke="#808080" stroke-opacity="0.15" stroke-width="0.9"/>
<line x1="224.91" x2="224.91" y1="462.8" y2="615.2" stroke="#808080" stroke-opacity="0.15" stroke-width="0.9"/>
<line x1="235.28" x2="235.28" y1="462.8" y2="615.2" stroke="#808080" stroke-opacity="0.15" stroke-width="0.9"/>
<line x1="245.66" x2="245.66" y1="462.8" y2="615.2" stroke="#808080" stroke-opacity="0.15" stroke-width="0.9"/>
<line x1="256.03" x2="256.03" y1="462.8" y2="615.2" stroke="#808080" stroke-opacity="0.15" stroke-width="0.9"/>
<line x1="266.40" x2="266.40" y1="462.8" y2="615.2" stroke="#808080" stroke-opacity="0.15" stroke-width="0.9"/>
<line x1="276.77" x2="276.77" y1="462.8" y2="615.2" stroke="#808080" stroke-opacity="0.15" stroke-width="0.9"/>
<line x1="287.14" x2="287.14" y1="462.8" y2="615.2" stroke="#808080" stroke-opacity="0.15" stroke-width="0.9"/>
<line x1="297.52" x2="297.52" y1="462.8" y2="615.2" stroke="#808080" stroke-opacity="0.15" stroke-width="0.9"/>
<line x1="307.89" x2="307.89" y1="462.8" y2="615.2" stroke="#808080" stroke-opacity="0.15" stroke-width="0.9"/>
<line x1="318.26" x2="318.26" y1="462.8" y2="615.2" stroke="#808080" stroke-opacity="0.15" stroke-width="0.9"/>
<line x1="328.63" x2="328.63" y1="462.8" y2="615.2" stroke="#808080" stroke-opacity="0.15" stroke-width="0.9"/>
<line x1="339.00" x2="339.00" y1="462.8" y2="615.2" stroke="#808080" stroke-opacity="0.15" stroke-width="0.9"/>
<line x1="349.38" x2="349.38" y1="462.8" y2="615.2" stroke="#808080" stroke-opacity="0.15" stroke-width="0.9"/>
<line x1="359.75" x2="359.75" y1="462.8" y2="615.2" stroke="#808080" stroke-opacity="0.15" stroke-width="0.9"/>
<line x1="370.12" x2="370.12" y1="462.8" y2="615.2" stroke="#808080" stroke-opacity="0.15" stroke-width="0.9"/>
<line x1="380.49" x2="380.49" y1="462.8" y2="615.2" stroke="#808080" stroke-opacity="0.15" stroke-width="0.9"/>
<line x1="390.87" x2="390.87" y1="462.8" y2="615.2" stroke="#808080" stroke-opacity="0.15" stroke-width="0.9"/>
<line x1="401.24" x2="401.24" y1="462.8" y2="615.2" stroke="#808080" stroke-opacity="0.15" stroke-width="0.9"/>
<line x1="411.61" x2="411.61" y1="462.8" y2="615.2" stroke="#808080" stroke-opacity="0.15" stroke-width="0.9"/>
<line x1="421.98" x2="421.98" y1="462.8" y2="615.2" stroke="#808080" stroke-opacity="0.15" stroke-width="0.9"/>
<line x1="432.35" x2="432.35" y1="462.8" y2="615.2" stroke="#808080" stroke-opacity="0.15" stroke-width="0.9"/>
<line x1="442.73" x2="442.73" y1="462.8" y2="615.2" stroke="#808080" stroke-opacity="0.15" stroke-width="0.9"/>
<line x1="453.10" x2="453.10" y1="462.8" y2="615.2" stroke="#808080" stroke-opacity="0.15" stroke-width="0.9"/>
<line x1="463.47" x2="463.47" y1="462.8" y2="615.2" stroke="#808080" stroke-opacity="0.15" stroke-width="0.9"/>
<line x1="473.84" x2="473.84" y1="462.8" y2="615.2" stroke="#808080" stroke-opacity="0.15" stroke-width="0.9"/>
<line x1="484.21" x2="484.21" y1="462.8" y2="615.2" stroke="#808080" stroke-opacity="0.15" stroke-width="0.9"/>
<text x="48.60" y="608.50" font-size="22" textLength="31.36" lengthAdjust="spacingAndGlyphs" fill="#000">AQ</text>
<line x1="43.4" x2="489.4" y1="523.50" y2="523.50" stroke="#333" stroke-width="1.4"/>
<circle cx="48.59" cy="541.50" r="2.84" fill="#0d5ea8"/>
<path d="M48.59,515.10L51.49,509.30L45.69,509.30Z" fill="#22d022"/>
<path d="M48.59,505.10L51.49,510.90L45.69,510.90Z" fill="#d42a2a"/>
<path d="M45.69,516.40L51.49,513.50L51.49,519.30Z" fill="#a0229f"/>
<path d="M51.49,530.00L45.69,527.10L45.69,532.90Z" fill="#d07c28"/>
<rect x="45.92" y="488.23" width="5.34" height="5.34" fill="#20bfca"/>
<circle cx="48.59" cy="504.50" r="2.84" fill="#0d5a18"/>
<circle cx="58.96" cy="529.60" r="2.84" fill="#0d5ea8"/>
<path d="M58.96,524.10L61.86,518.30L56.06,518.30Z" fill="#22d022"/>
<path d="M58.96,529.50L61.86,535.30L56.06,535.30Z" fill="#d42a2a"/>
<path d="M56.06,512.50L61.86,509.60L61.86,515.40Z" fill="#a0229f"/>
<path d="M61.86,528.20L56.06,525.30L56.06,531.10Z" fill="#d07c28"/>
<rect x="56.29" y="521.33" width="5.34" height="5.34" fill="#20bfca"/>
<circle cx="58.96" cy="507.30" r="2.84" fill="#0d5a18"/>
<circle cx="69.33" cy="545.40" r="2.84" fill="#0d5ea8"/>
<path d="M69.33,519.00L72.23,513.20L66.43,513.20Z" fill="#22d022"/>
<path d="M69.33,509.30L72.23,515.10L66.43,515.10Z" fill="#d42a2a"/>
<path d="M66.43,506.90L72.23,504.00L72.23,509.80Z" fill="#a0229f"/>
<path d="M72.23,534.80L66.43,531.90L66.43,537.70Z" fill="#d07c28"/>
<rect x="66.66" y="496.93" width="5.34" height="5.34" fill="#20bfca"/>
<circle cx="69.33" cy="503.50" r="2.84" fill="#0d5a18"/>
<path d="M67.07,497.34L71.59,501.86M71.59,497.34L67.07,501.86" stroke="#000" stroke-width="1.5" fill="none"/>
<circle cx="79.70" cy="549.10" r="2.84" fill="#0d5ea8"/>
<path d="M79.70,517.20L82.60,511.40L76.80,511.40Z" fill="#22d022"/>
<path d="M79.70,510.70L82.60,516.50L76.80,516.50Z" fill="#d42a2a"/>
<path d="M76.80,505.90L82.60,503.00L82.60,508.80Z" fill="#a0229f"/>
<path d="M82.60,532.00L76.80,529.10L76.80,534.90Z" fill="#d07c28"/>
<rect x="77.03" y="481.63" width="5.34" height="5.34" fill="#20bfca"/>
<circle cx="79.70" cy="494.10" r="2.84" fill="#0d5a18"/>
<circle cx="90.07" cy="563.30" r="2.84" fill="#0d5ea8"/>
<path d="M90.07,506.00L92.97,500.20L87.17,500.20Z" fill="#22d022"/>
<path d="M90.07,486.60L92.97,492.40L87.17,492.40Z" fill="#d42a2a"/>
<path d="M87.17,509.70L92.97,506.80L92.97,512.60Z" fill="#a0229f"/>
<path d="M92.97,535.20L87.17,532.30L87.17,538.10Z" fill="#d07c28"/>
<circle cx="90.07" cy="507.70" r="2.84" fill="#0d5a18"/>
<path d="M87.81,532.94L92.34,537.46M92.34,532.94L87.81,537.46" stroke="#000" stroke-width="1.5" fill="none"/>
<circle cx="100.45" cy="559.70" r="2.84" fill="#0d5ea8"/>
<path d="M100.45,504.60L103.35,498.80L97.55,498.80Z" fill="#22d022"/>
<path d="M97.55,503.20L103.35,500.30L103.35,506.10Z" fill="#a0229f"/>
<path d="M103.35,530.90L97.55,528.00L97.55,533.80Z" fill="#d07c28"/>
<rect x="97.78" y="492.43" width="5.34" height="5.34" fill="#20bfca"/>
<circle cx="100.45" cy="490.00" r="2.84" fill="#0d5a18"/>
<path d="M98.18,492.84L102.71,497.36M102.71,492.84L98.18,497.36" stroke="#000" stroke-width="1.5" fill="none"/>
<circle cx="110.82" cy="546.30" r="2.84" fill="#0d5ea8"/>
<path d="M110.82,513.40L113.72,507.60L107.92,507.60Z" fill="#22d022"/>
<path d="M110.82,509.10L113.72,514.90L107.92,514.90Z" fill="#d42a2a"/>
<path d="M107.92,503.20L113.72,500.30L113.72,506.10Z" fill="#a0229f"/>
<path d="M113.72,532.00L107.92,529.10L107.92,534.90Z" fill="#d07c28"/>
<rect x="108.15" y="485.53" width="5.34" height="5.34" fill="#20bfca"/>
<circle cx="110.82" cy="495.10" r="2.84" fill="#0d5a18"/>
<circle cx="121.19" cy="546.30" r="2.84" fill="#0d5ea8"/>
<path d="M121.19,514.10L124.09,508.30L118.29,508.30Z" fill="#22d022"/>
<path d="M121.19,512.60L124.09,518.40L118.29,518.40Z" fill="#d42a2a"/>
<path d="M118.29,503.50L124.09,500.60L124.09,506.40Z" fill="#a0229f"/>
<path d="M124.09,533.50L118.29,530.60L118.29,536.40Z" fill="#d07c28"/>
<rect x="118.52" y="484.23" width="5.34" height="5.34" fill="#20bfca"/>
<circle cx="121.19" cy="495.40" r="2.84" fill="#0d5a18"/>
<circle cx="131.56" cy="554.60" r="2.84" fill="#0d5ea8"/>
<path d="M131.56,516.40L134.46,510.60L128.66,510.60Z" fill="#22d022"/>
<path d="M128.66,508.20L134.46,505.30L134.46,511.10Z" fill="#a0229f"/>
<path d="M134.46,535.50L128.66,532.60L128.66,538.40Z" fill="#d07c28"/>
<rect x="128.89" y="495.83" width="5.34" height="5.34" fill="#20bfca"/>
<circle cx="131.56" cy="503.20" r="2.84" fill="#0d5a18"/>
<path d="M129.30,508.24L133.82,512.76M133.82,508.24L129.30,512.76" stroke="#000" stroke-width="1.5" fill="none"/>
<circle cx="141.93" cy="530.90" r="2.84" fill="#0d5ea8"/>
<path d="M141.93,529.10L144.83,534.90L139.03,534.90Z" fill="#d42a2a"/>
<path d="M139.03,498.90L144.83,496.00L144.83,501.80Z" fill="#a0229f"/>
<path d="M144.83,528.90L139.03,526.00L139.03,531.80Z" fill="#d07c28"/>
<rect x="139.27" y="517.83" width="5.34" height="5.34" fill="#20bfca"/>
<circle cx="141.93" cy="496.90" r="2.84" fill="#0d5a18"/>
<circle cx="152.31" cy="534.60" r="2.84" fill="#0d5ea8"/>
<path d="M152.31,525.70L155.21,519.90L149.41,519.90Z" fill="#22d022"/>
<path d="M152.31,538.80L155.21,544.60L149.41,544.60Z" fill="#d42a2a"/>
<path d="M149.41,503.20L155.21,500.30L155.21,506.10Z" fill="#a0229f"/>
<path d="M155.21,531.20L149.41,528.30L149.41,534.10Z" fill="#d07c28"/>
<rect x="149.64" y="515.93" width="5.34" height="5.34" fill="#20bfca"/>
<circle cx="152.31" cy="495.10" r="2.84" fill="#0d5a18"/>
<circle cx="162.68" cy="533.50" r="2.84" fill="#0d5ea8"/>
<path d="M162.68,524.10L165.58,518.30L159.78,518.30Z" fill="#22d022"/>
<path d="M162.68,535.70L165.58,541.50L159.78,541.50Z" fill="#d42a2a"/>
<path d="M159.78,503.20L165.58,500.30L165.58,506.10Z" fill="#a0229f"/>
<path d="M165.58,530.00L159.78,527.10L159.78,532.90Z" fill="#d07c28"/>
<rect x="160.01" y="513.53" width="5.34" height="5.34" fill="#20bfca"/>
<circle cx="162.68" cy="497.10" r="2.84" fill="#0d5a18"/>
<circle cx="173.05" cy="551.20" r="2.84" fill="#0d5ea8"/>
<path d="M173.05,519.50L175.95,513.70L170.15,513.70Z" fill="#22d022"/>
<path d="M173.05,509.10L175.95,514.90L170.15,514.90Z" fill="#d42a2a"/>
<path d="M170.15,498.20L175.95,495.30L175.95,501.10Z" fill="#a0229f"/>
<path d="M175.95,536.20L170.15,533.30L170.15,539.10Z" fill="#d07c28"/>
<rect x="170.38" y="555.93" width="5.34" height="5.34" fill="#20bfca"/>
<circle cx="173.05" cy="495.10" r="2.84" fill="#0d5a18"/>
<path d="M170.79,556.34L175.31,560.86M175.31,556.34L170.79,560.86" stroke="#000" stroke-width="1.5" fill="none"/>
<circle cx="183.42" cy="579.30" r="2.84" fill="#0d5ea8"/>
<path d="M183.42,508.70L186.32,502.90L180.52,502.90Z" fill="#22d022"/>
<path d="M183.42,489.10L186.32,494.90L180.52,494.90Z" fill="#d42a2a"/>
<path d="M180.52,502.30L186.32,499.40L186.32,505.20Z" fill="#a0229f"/>
<path d="M186.32,538.90L180.52,536.00L180.52,541.80Z" fill="#d07c28"/>
<circle cx="183.42" cy="500.20" r="2.84" fill="#0d5a18"/>
<path d="M181.16,489.74L185.69,494.26M185.69,489.74L181.16,494.26" stroke="#000" stroke-width="1.5" fill="none"/>
<circle cx="193.80" cy="568.60" r="2.84" fill="#0d5ea8"/>
<path d="M193.80,506.10L196.70,500.30L190.90,500.30Z" fill="#22d022"/>
<path d="M193.80,493.30L196.70,499.10L190.90,499.10Z" fill="#d42a2a"/>
<path d="M190.90,496.20L196.70,493.30L196.70,499.10Z" fill="#a0229f"/>
<path d="M196.70,536.60L190.90,533.70L190.90,539.50Z" fill="#d07c28"/>
<circle cx="193.80" cy="506.30" r="2.84" fill="#0d5a18"/>
<circle cx="204.17" cy="556.60" r="2.84" fill="#0d5ea8"/>
<path d="M204.17,516.80L207.07,511.00L201.27,511.00Z" fill="#22d022"/>
<path d="M204.17,515.60L207.07,521.40L201.27,521.40Z" fill="#d42a2a"/>
<path d="M201.27,499.40L207.07,496.50L207.07,502.30Z" fill="#a0229f"/>
<path d="M207.07,536.60L201.27,533.70L201.27,539.50Z" fill="#d07c28"/>
<circle cx="204.17" cy="497.50" r="2.84" fill="#0d5a18"/>
<circle cx="214.54" cy="555.90" r="2.84" fill="#0d5ea8"/>
<path d="M214.54,516.80L217.44,511.00L211.64,511.00Z" fill="#22d022"/>
<path d="M214.54,516.00L217.44,521.80L211.64,521.80Z" fill="#d42a2a"/>
<path d="M211.64,499.00L217.44,496.10L217.44,501.90Z" fill="#a0229f"/>
<path d="M217.44,536.20L211.64,533.30L211.64,539.10Z" fill="#d07c28"/>
<circle cx="214.54" cy="498.00" r="2.84" fill="#0d5a18"/>
<circle cx="224.91" cy="561.90" r="2.84" fill="#0d5ea8"/>
<path d="M224.91,517.60L227.81,511.80L222.01,511.80Z" fill="#22d022"/>
<path d="M224.91,515.60L227.81,521.40L222.01,521.40Z" fill="#d42a2a"/>
<path d="M222.01,502.40L227.81,499.50L227.81,505.30Z" fill="#a0229f"/>
<path d="M227.81,541.20L222.01,538.30L222.01,544.10Z" fill="#d07c28"/>
<circle cx="224.91" cy="507.30" r="2.84" fill="#0d5a18"/>
<path d="M222.65,516.24L227.17,520.76M227.17,516.24L222.65,520.76" stroke="#000" stroke-width="1.5" fill="none"/>
<circle cx="235.28" cy="567.20" r="2.84" fill="#0d5ea8"/>
<path d="M235.28,505.30L238.18,499.50L232.38,499.50Z" fill="#22d022"/>
<path d="M235.28,497.90L238.18,503.70L232.38,503.70Z" fill="#d42a2a"/>
<path d="M232.38,493.80L238.18,490.90L238.18,496.70Z" fill="#a0229f"/>
<path d="M238.18,532.40L232.38,529.50L232.38,535.30Z" fill="#d07c28"/>
<circle cx="235.28" cy="492.90" r="2.84" fill="#0d5a18"/>
<circle cx="245.66" cy="554.30" r="2.84" fill="#0d5ea8"/>
<path d="M245.66,513.70L248.56,507.90L242.76,507.90Z" fill="#22d022"/>
<path d="M245.66,518.30L248.56,524.10L242.76,524.10Z" fill="#d42a2a"/>
<path d="M242.76,495.70L248.56,492.80L248.56,498.60Z" fill="#a0229f"/>
<path d="M248.56,535.60L242.76,532.70L242.76,538.50Z" fill="#d07c28"/>
<rect x="242.99" y="476.33" width="5.34" height="5.34" fill="#20bfca"/>
<circle cx="245.66" cy="485.40" r="2.84" fill="#0d5a18"/>
<circle cx="256.03" cy="555.40" r="2.84" fill="#0d5ea8"/>
<path d="M256.03,515.40L258.93,509.60L253.13,509.60Z" fill="#22d022"/>
<path d="M256.03,523.70L258.93,529.50L253.13,529.50Z" fill="#d42a2a"/>
<path d="M253.13,496.20L258.93,493.30L258.93,499.10Z" fill="#a0229f"/>
<path d="M258.93,535.40L253.13,532.50L253.13,538.30Z" fill="#d07c28"/>
<rect x="253.36" y="478.83" width="5.34" height="5.34" fill="#20bfca"/>
<circle cx="256.03" cy="484.80" r="2.84" fill="#0d5a18"/>
<circle cx="266.40" cy="560.10" r="2.84" fill="#0d5ea8"/>
<path d="M266.40,515.40L269.30,509.60L263.50,509.60Z" fill="#22d022"/>
<path d="M266.40,511.40L269.30,517.20L263.50,517.20Z" fill="#d42a2a"/>
<path d="M263.50,500.20L269.30,497.30L269.30,503.10Z" fill="#a0229f"/>
<path d="M269.30,536.90L263.50,534.00L263.50,539.80Z" fill="#d07c28"/>
<rect x="263.73" y="490.83" width="5.34" height="5.34" fill="#20bfca"/>
<circle cx="276.77" cy="581.80" r="2.84" fill="#0d5ea8"/>
<path d="M276.77,503.40L279.67,497.60L273.87,497.60Z" fill="#22d022"/>
<path d="M276.77,490.60L279.67,496.40L273.87,496.40Z" fill="#d42a2a"/>
<path d="M273.87,501.70L279.67,498.80L279.67,504.60Z" fill="#a0229f"/>
<path d="M279.67,542.30L273.87,539.40L273.87,545.20Z" fill="#d07c28"/>
<rect x="274.10" y="464.43" width="5.34" height="5.34" fill="#20bfca"/>
<circle cx="276.77" cy="503.80" r="2.84" fill="#0d5a18"/>
<path d="M274.51,491.24L279.03,495.76M279.03,491.24L274.51,495.76" stroke="#000" stroke-width="1.5" fill="none"/>
<circle cx="287.14" cy="577.60" r="2.84" fill="#0d5ea8"/>
<path d="M287.14,504.60L290.04,498.80L284.24,498.80Z" fill="#22d022"/>
<path d="M287.14,489.90L290.04,495.70L284.24,495.70Z" fill="#d42a2a"/>
<path d="M284.24,498.90L290.04,496.00L290.04,501.80Z" fill="#a0229f"/>
<path d="M290.04,537.70L284.24,534.80L284.24,540.60Z" fill="#d07c28"/>
<circle cx="287.14" cy="496.20" r="2.84" fill="#0d5a18"/>
<circle cx="297.52" cy="548.50" r="2.84" fill="#0d5ea8"/>
<path d="M297.52,512.60L300.42,506.80L294.62,506.80Z" fill="#22d022"/>
<path d="M297.52,532.60L300.42,538.40L294.62,538.40Z" fill="#d42a2a"/>
<path d="M294.62,490.90L300.42,488.00L300.42,493.80Z" fill="#a0229f"/>
<path d="M300.42,534.30L294.62,531.40L294.62,537.20Z" fill="#d07c28"/>
<rect x="294.85" y="523.93" width="5.34" height="5.34" fill="#20bfca"/>
<circle cx="297.52" cy="502.50" r="2.84" fill="#0d5a18"/>
<circle cx="307.89" cy="537.30" r="2.84" fill="#0d5ea8"/>
<path d="M307.89,522.90L310.79,517.10L304.99,517.10Z" fill="#22d022"/>
<path d="M307.89,537.10L310.79,542.90L304.99,542.90Z" fill="#d42a2a"/>
<path d="M304.99,492.00L310.79,489.10L310.79,494.90Z" fill="#a0229f"/>
<path d="M310.79,532.30L304.99,529.40L304.99,535.20Z" fill="#d07c28"/>
<circle cx="307.89" cy="485.80" r="2.84" fill="#0d5a18"/>
<circle cx="318.26" cy="584.00" r="2.84" fill="#0d5ea8"/>
<path d="M318.26,496.00L321.16,501.80L315.36,501.80Z" fill="#d42a2a"/>
<path d="M315.36,494.60L321.16,491.70L321.16,497.50Z" fill="#a0229f"/>
<circle cx="318.26" cy="502.80" r="2.84" fill="#0d5a18"/>
<path d="M316.00,496.64L320.52,501.16M320.52,496.64L316.00,501.16" stroke="#000" stroke-width="1.5" fill="none"/>
<circle cx="328.63" cy="570.80" r="2.84" fill="#0d5ea8"/>
<path d="M328.63,517.90L331.53,512.10L325.73,512.10Z" fill="#22d022"/>
<path d="M328.63,520.60L331.53,526.40L325.73,526.40Z" fill="#d42a2a"/>
<path d="M325.73,493.50L331.53,490.60L331.53,496.40Z" fill="#a0229f"/>
<path d="M326.37,521.24L330.89,525.76M330.89,521.24L326.37,525.76" stroke="#000" stroke-width="1.5" fill="none"/>
<circle cx="339.00" cy="597.40" r="2.84" fill="#0d5ea8"/>
<path d="M339.00,498.70L341.90,492.90L336.10,492.90Z" fill="#22d022"/>
<path d="M339.00,499.40L341.90,505.20L336.10,505.20Z" fill="#d42a2a"/>
<path d="M336.10,500.50L341.90,497.60L341.90,503.40Z" fill="#a0229f"/>
<path d="M341.90,557.10L336.10,554.20L336.10,560.00Z" fill="#d07c28"/>
<rect x="336.34" y="466.23" width="5.34" height="5.34" fill="#20bfca"/>
<circle cx="339.00" cy="501.20" r="2.84" fill="#0d5a18"/>
<path d="M336.74,500.04L341.27,504.56M341.27,500.04L336.74,504.56" stroke="#000" stroke-width="1.5" fill="none"/>
<circle cx="349.38" cy="581.40" r="2.84" fill="#0d5ea8"/>
<path d="M349.38,501.80L352.28,496.00L346.48,496.00Z" fill="#22d022"/>
<path d="M349.38,491.70L352.28,497.50L346.48,497.50Z" fill="#d42a2a"/>
<path d="M352.28,542.10L346.48,539.20L346.48,545.00Z" fill="#d07c28"/>
<circle cx="349.38" cy="487.80" r="2.84" fill="#0d5a18"/>
<circle cx="359.75" cy="541.00" r="2.84" fill="#0d5ea8"/>
<path d="M359.75,524.60L362.65,518.80L356.85,518.80Z" fill="#22d022"/>
<path d="M359.75,538.60L362.65,544.40L356.85,544.40Z" fill="#d42a2a"/>
<path d="M356.85,485.80L362.65,482.90L362.65,488.70Z" fill="#a0229f"/>
<path d="M362.65,533.60L356.85,530.70L356.85,536.50Z" fill="#d07c28"/>
<circle cx="359.75" cy="480.90" r="2.84" fill="#0d5a18"/>
<circle cx="370.12" cy="595.20" r="2.84" fill="#0d5ea8"/>
<path d="M370.12,509.80L373.02,504.00L367.22,504.00Z" fill="#22d022"/>
<path d="M367.22,489.70L373.02,486.80L373.02,492.60Z" fill="#a0229f"/>
<rect x="367.45" y="539.33" width="5.34" height="5.34" fill="#20bfca"/>
<circle cx="370.12" cy="496.60" r="2.84" fill="#0d5a18"/>
<path d="M367.86,494.34L372.38,498.86M372.38,494.34L367.86,498.86" stroke="#000" stroke-width="1.5" fill="none"/>
<circle cx="380.49" cy="585.00" r="2.84" fill="#0d5ea8"/>
<path d="M380.49,494.80L383.39,500.60L377.59,500.60Z" fill="#d42a2a"/>
<path d="M383.39,547.40L377.59,544.50L377.59,550.30Z" fill="#d07c28"/>
<rect x="377.83" y="503.13" width="5.34" height="5.34" fill="#20bfca"/>
<circle cx="380.49" cy="487.40" r="2.84" fill="#0d5a18"/>
<circle cx="390.87" cy="558.90" r="2.84" fill="#0d5ea8"/>
<path d="M390.87,516.40L393.77,510.60L387.97,510.60Z" fill="#22d022"/>
<path d="M390.87,516.80L393.77,522.60L387.97,522.60Z" fill="#d42a2a"/>
<path d="M387.97,481.20L393.77,478.30L393.77,484.10Z" fill="#a0229f"/>
<path d="M393.77,537.70L387.97,534.80L387.97,540.60Z" fill="#d07c28"/>
<circle cx="390.87" cy="480.20" r="2.84" fill="#0d5a18"/>
<path d="M388.60,517.44L393.13,521.96M393.13,517.44L388.60,521.96" stroke="#000" stroke-width="1.5" fill="none"/>
<circle cx="401.24" cy="595.20" r="2.84" fill="#0d5ea8"/>
<path d="M401.24,504.10L404.14,498.30L398.34,498.30Z" fill="#22d022"/>
<path d="M401.24,500.90L404.14,506.70L398.34,506.70Z" fill="#d42a2a"/>
<path d="M398.34,491.20L404.14,488.30L404.14,494.10Z" fill="#a0229f"/>
<circle cx="401.24" cy="486.90" r="2.84" fill="#0d5a18"/>
<path d="M398.98,501.54L403.50,506.06M403.50,501.54L398.98,506.06" stroke="#000" stroke-width="1.5" fill="none"/>
<circle cx="411.61" cy="609.10" r="2.84" fill="#0d5ea8"/>
<path d="M411.61,507.70L414.51,501.90L408.71,501.90Z" fill="#22d022"/>
<path d="M408.71,496.20L414.51,493.30L414.51,499.10Z" fill="#a0229f"/>
<circle cx="411.61" cy="495.50" r="2.84" fill="#0d5a18"/>
<path d="M409.35,508.24L413.87,512.76M413.87,508.24L409.35,512.76" stroke="#000" stroke-width="1.5" fill="none"/>
<circle cx="421.98" cy="584.70" r="2.84" fill="#0d5ea8"/>
<path d="M421.98,503.70L424.88,497.90L419.08,497.90Z" fill="#22d022"/>
<path d="M421.98,499.40L424.88,505.20L419.08,505.20Z" fill="#d42a2a"/>
<path d="M419.08,482.80L424.88,479.90L424.88,485.70Z" fill="#a0229f"/>
<circle cx="421.98" cy="484.30" r="2.84" fill="#0d5a18"/>
<circle cx="432.35" cy="600.80" r="2.84" fill="#0d5ea8"/>
<path d="M432.35,509.50L435.25,503.70L429.45,503.70Z" fill="#22d022"/>
<path d="M429.45,483.20L435.25,480.30L435.25,486.10Z" fill="#a0229f"/>
<path d="M435.25,558.00L429.45,555.10L429.45,560.90Z" fill="#d07c28"/>
<path d="M430.09,498.94L434.62,503.46M434.62,498.94L430.09,503.46" stroke="#000" stroke-width="1.5" fill="none"/>
<circle cx="442.73" cy="536.00" r="2.84" fill="#0d5ea8"/>
<path d="M442.73,501.40L445.63,507.20L439.83,507.20Z" fill="#d42a2a"/>
<path d="M439.83,489.70L445.63,486.80L445.63,492.60Z" fill="#a0229f"/>
<rect x="440.06" y="468.53" width="5.34" height="5.34" fill="#20bfca"/>
<circle cx="442.73" cy="495.10" r="2.84" fill="#0d5a18"/>
<path d="M440.46,468.94L444.99,473.46M444.99,468.94L440.46,473.46" stroke="#000" stroke-width="1.5" fill="none"/>
<path d="M440.46,505.54L444.99,510.06M444.99,505.54L440.46,510.06" stroke="#000" stroke-width="1.5" fill="none"/>
<path d="M453.10,508.00L456.00,502.20L450.20,502.20Z" fill="#22d022"/>
<path d="M453.10,513.70L456.00,519.50L450.20,519.50Z" fill="#d42a2a"/>
<path d="M450.20,482.00L456.00,479.10L456.00,484.90Z" fill="#a0229f"/>
<circle cx="453.10" cy="478.20" r="2.84" fill="#0d5a18"/>
<path d="M450.84,522.84L455.36,527.36M455.36,522.84L450.84,527.36" stroke="#000" stroke-width="1.5" fill="none"/>
<circle cx="463.47" cy="604.50" r="2.84" fill="#0d5ea8"/>
<path d="M463.47,508.70L466.37,502.90L460.57,502.90Z" fill="#22d022"/>
<path d="M463.47,526.00L466.37,531.80L460.57,531.80Z" fill="#d42a2a"/>
<path d="M466.37,541.20L460.57,538.30L460.57,544.10Z" fill="#d07c28"/>
<circle cx="463.47" cy="480.20" r="2.84" fill="#0d5a18"/>
<path d="M461.21,526.64L465.73,531.16M465.73,526.64L461.21,531.16" stroke="#000" stroke-width="1.5" fill="none"/>
<circle cx="473.84" cy="599.50" r="2.84" fill="#0d5ea8"/>
<path d="M473.84,509.80L476.74,504.00L470.94,504.00Z" fill="#22d022"/>
<path d="M473.84,498.30L476.74,504.10L470.94,504.10Z" fill="#d42a2a"/>
<circle cx="473.84" cy="485.80" r="2.84" fill="#0d5a18"/>
<path d="M471.58,498.94L476.10,503.46M476.10,498.94L471.58,503.46" stroke="#000" stroke-width="1.5" fill="none"/>
<path d="M471.58,504.64L476.10,509.16M476.10,504.64L471.58,509.16" stroke="#000" stroke-width="1.5" fill="none"/>
<path d="M484.21,508.30L487.11,502.50L481.31,502.50Z" fill="#22d022"/>
<path d="M484.21,494.50L487.11,500.30L481.31,500.30Z" fill="#d42a2a"/>
<path d="M481.31,473.10L487.11,470.20L487.11,476.00Z" fill="#a0229f"/>
<path d="M481.95,495.14L486.48,499.66M486.48,495.14L481.95,499.66" stroke="#000" stroke-width="1.5" fill="none"/>
<path d="M481.95,503.14L486.48,507.66M486.48,503.14L481.95,507.66" stroke="#000" stroke-width="1.5" fill="none"/>
<rect x="43.4" y="462.8" width="446.0" height="152.40000000000003" fill="none" stroke="#303030" stroke-width="1.15"/>
<line x1="40.199999999999996" x2="43.4" y1="600.55" y2="600.55" stroke="#303030" stroke-width="1.15"/>
<text x="36.00" y="604.45" font-size="8.5" text-anchor="end" textLength="17.13" lengthAdjust="spacingAndGlyphs" fill="#000">-400</text>
<line x1="40.199999999999996" x2="43.4" y1="571.45" y2="571.45" stroke="#303030" stroke-width="1.15"/>
<text x="36.00" y="575.35" font-size="8.5" text-anchor="end" textLength="17.13" lengthAdjust="spacingAndGlyphs" fill="#000">-200</text>
<line x1="40.199999999999996" x2="43.4" y1="542.35" y2="542.35" stroke="#303030" stroke-width="1.15"/>
<text x="36.00" y="546.25" font-size="8.5" text-anchor="end" textLength="4.80" lengthAdjust="spacingAndGlyphs" fill="#000">0</text>
<line x1="40.199999999999996" x2="43.4" y1="513.25" y2="513.25" stroke="#303030" stroke-width="1.15"/>
<text x="36.00" y="517.15" font-size="8.5" text-anchor="end" textLength="14.41" lengthAdjust="spacingAndGlyphs" fill="#000">200</text>
<line x1="40.199999999999996" x2="43.4" y1="484.15" y2="484.15" stroke="#303030" stroke-width="1.15"/>
<text x="36.00" y="488.05" font-size="8.5" text-anchor="end" textLength="14.41" lengthAdjust="spacingAndGlyphs" fill="#000">400</text>
<line x1="48.59" x2="48.59" y1="615.2" y2="618.4000000000001" stroke="#303030" stroke-width="1.15"/>
<text transform="translate(47.49,627.80) rotate(-45)" x="0" y="0" font-size="8.6" text-anchor="end" textLength="4.96" lengthAdjust="spacingAndGlyphs" fill="#000">1</text>
<line x1="58.96" x2="58.96" y1="615.2" y2="618.4000000000001" stroke="#303030" stroke-width="1.15"/>
<text transform="translate(57.86,627.80) rotate(-45)" x="0" y="0" font-size="8.6" text-anchor="end" textLength="4.96" lengthAdjust="spacingAndGlyphs" fill="#000">2</text>
<line x1="69.33" x2="69.33" y1="615.2" y2="618.4000000000001" stroke="#303030" stroke-width="1.15"/>
<text transform="translate(68.23,627.80) rotate(-45)" x="0" y="0" font-size="8.6" text-anchor="end" textLength="12.40" lengthAdjust="spacingAndGlyphs" fill="#000">1,2</text>
<line x1="79.70" x2="79.70" y1="615.2" y2="618.4000000000001" stroke="#303030" stroke-width="1.15"/>
<text transform="translate(78.60,627.80) rotate(-45)" x="0" y="0" font-size="8.6" text-anchor="end" textLength="12.40" lengthAdjust="spacingAndGlyphs" fill="#000">1,3</text>
<line x1="90.07" x2="90.07" y1="615.2" y2="618.4000000000001" stroke="#303030" stroke-width="1.15"/>
<text transform="translate(88.97,627.80) rotate(-45)" x="0" y="0" font-size="8.6" text-anchor="end" textLength="12.40" lengthAdjust="spacingAndGlyphs" fill="#000">1,4</text>
<line x1="100.45" x2="100.45" y1="615.2" y2="618.4000000000001" stroke="#303030" stroke-width="1.15"/>
<text transform="translate(99.35,627.80) rotate(-45)" x="0" y="0" font-size="8.6" text-anchor="end" textLength="12.40" lengthAdjust="spacingAndGlyphs" fill="#000">1,5</text>
<line x1="110.82" x2="110.82" y1="615.2" y2="618.4000000000001" stroke="#303030" stroke-width="1.15"/>
<text transform="translate(109.72,627.80) rotate(-45)" x="0" y="0" font-size="8.6" text-anchor="end" textLength="12.40" lengthAdjust="spacingAndGlyphs" fill="#000">1,6</text>
<line x1="121.19" x2="121.19" y1="615.2" y2="618.4000000000001" stroke="#303030" stroke-width="1.15"/>
<text transform="translate(120.09,627.80) rotate(-45)" x="0" y="0" font-size="8.6" text-anchor="end" textLength="12.40" lengthAdjust="spacingAndGlyphs" fill="#000">1,7</text>
<line x1="131.56" x2="131.56" y1="615.2" y2="618.4000000000001" stroke="#303030" stroke-width="1.15"/>
<text transform="translate(130.46,627.80) rotate(-45)" x="0" y="0" font-size="8.6" text-anchor="end" textLength="12.40" lengthAdjust="spacingAndGlyphs" fill="#000">1,8</text>
<line x1="141.93" x2="141.93" y1="615.2" y2="618.4000000000001" stroke="#303030" stroke-width="1.15"/>
<text transform="translate(140.83,627.80) rotate(-45)" x="0" y="0" font-size="8.6" text-anchor="end" textLength="12.40" lengthAdjust="spacingAndGlyphs" fill="#000">2,3</text>
<line x1="152.31" x2="152.31" y1="615.2" y2="618.4000000000001" stroke="#303030" stroke-width="1.15"/>
<text transform="translate(151.21,627.80) rotate(-45)" x="0" y="0" font-size="8.6" text-anchor="end" textLength="12.40" lengthAdjust="spacingAndGlyphs" fill="#000">2,6</text>
<line x1="162.68" x2="162.68" y1="615.2" y2="618.4000000000001" stroke="#303030" stroke-width="1.15"/>
<text transform="translate(161.58,627.80) rotate(-45)" x="0" y="0" font-size="8.6" text-anchor="end" textLength="12.40" lengthAdjust="spacingAndGlyphs" fill="#000">2,7</text>
<line x1="173.05" x2="173.05" y1="615.2" y2="618.4000000000001" stroke="#303030" stroke-width="1.15"/>
<text transform="translate(171.95,627.80) rotate(-45)" x="0" y="0" font-size="8.6" text-anchor="end" textLength="19.84" lengthAdjust="spacingAndGlyphs" fill="#000">1,2,3</text>
<line x1="183.42" x2="183.42" y1="615.2" y2="618.4000000000001" stroke="#303030" stroke-width="1.15"/>
<text transform="translate(182.32,627.80) rotate(-45)" x="0" y="0" font-size="8.6" text-anchor="end" textLength="19.84" lengthAdjust="spacingAndGlyphs" fill="#000">1,2,4</text>
<line x1="193.80" x2="193.80" y1="615.2" y2="618.4000000000001" stroke="#303030" stroke-width="1.15"/>
<text transform="translate(192.70,627.80) rotate(-45)" x="0" y="0" font-size="8.6" text-anchor="end" textLength="19.84" lengthAdjust="spacingAndGlyphs" fill="#000">1,2,5</text>
<line x1="204.17" x2="204.17" y1="615.2" y2="618.4000000000001" stroke="#303030" stroke-width="1.15"/>
<text transform="translate(203.07,627.80) rotate(-45)" x="0" y="0" font-size="8.6" text-anchor="end" textLength="19.84" lengthAdjust="spacingAndGlyphs" fill="#000">1,2,6</text>
<line x1="214.54" x2="214.54" y1="615.2" y2="618.4000000000001" stroke="#303030" stroke-width="1.15"/>
<text transform="translate(213.44,627.80) rotate(-45)" x="0" y="0" font-size="8.6" text-anchor="end" textLength="19.84" lengthAdjust="spacingAndGlyphs" fill="#000">1,2,7</text>
<line x1="224.91" x2="224.91" y1="615.2" y2="618.4000000000001" stroke="#303030" stroke-width="1.15"/>
<text transform="translate(223.81,627.80) rotate(-45)" x="0" y="0" font-size="8.6" text-anchor="end" textLength="19.84" lengthAdjust="spacingAndGlyphs" fill="#000">1,2,8</text>
<line x1="235.28" x2="235.28" y1="615.2" y2="618.4000000000001" stroke="#303030" stroke-width="1.15"/>
<text transform="translate(234.18,627.80) rotate(-45)" x="0" y="0" font-size="8.6" text-anchor="end" textLength="19.84" lengthAdjust="spacingAndGlyphs" fill="#000">1,3,5</text>
<line x1="245.66" x2="245.66" y1="615.2" y2="618.4000000000001" stroke="#303030" stroke-width="1.15"/>
<text transform="translate(244.56,627.80) rotate(-45)" x="0" y="0" font-size="8.6" text-anchor="end" textLength="19.84" lengthAdjust="spacingAndGlyphs" fill="#000">1,3,6</text>
<line x1="256.03" x2="256.03" y1="615.2" y2="618.4000000000001" stroke="#303030" stroke-width="1.15"/>
<text transform="translate(254.93,627.80) rotate(-45)" x="0" y="0" font-size="8.6" text-anchor="end" textLength="19.84" lengthAdjust="spacingAndGlyphs" fill="#000">1,3,7</text>
<line x1="266.40" x2="266.40" y1="615.2" y2="618.4000000000001" stroke="#303030" stroke-width="1.15"/>
<text transform="translate(265.30,627.80) rotate(-45)" x="0" y="0" font-size="8.6" text-anchor="end" textLength="19.84" lengthAdjust="spacingAndGlyphs" fill="#000">1,3,8</text>
<line x1="276.77" x2="276.77" y1="615.2" y2="618.4000000000001" stroke="#303030" stroke-width="1.15"/>
<text transform="translate(275.67,627.80) rotate(-45)" x="0" y="0" font-size="8.6" text-anchor="end" textLength="19.84" lengthAdjust="spacingAndGlyphs" fill="#000">1,4,5</text>
<line x1="287.14" x2="287.14" y1="615.2" y2="618.4000000000001" stroke="#303030" stroke-width="1.15"/>
<text transform="translate(286.04,627.80) rotate(-45)" x="0" y="0" font-size="8.6" text-anchor="end" textLength="19.84" lengthAdjust="spacingAndGlyphs" fill="#000">1,4,6</text>
<line x1="297.52" x2="297.52" y1="615.2" y2="618.4000000000001" stroke="#303030" stroke-width="1.15"/>
<text transform="translate(296.42,627.80) rotate(-45)" x="0" y="0" font-size="8.6" text-anchor="end" textLength="19.84" lengthAdjust="spacingAndGlyphs" fill="#000">2,3,5</text>
<line x1="307.89" x2="307.89" y1="615.2" y2="618.4000000000001" stroke="#303030" stroke-width="1.15"/>
<text transform="translate(306.79,627.80) rotate(-45)" x="0" y="0" font-size="8.6" text-anchor="end" textLength="19.84" lengthAdjust="spacingAndGlyphs" fill="#000">2,3,6</text>
<line x1="318.26" x2="318.26" y1="615.2" y2="618.4000000000001" stroke="#303030" stroke-width="1.15"/>
<text transform="translate(317.16,627.80) rotate(-45)" x="0" y="0" font-size="8.6" text-anchor="end" textLength="27.28" lengthAdjust="spacingAndGlyphs" fill="#000">1,2,5,8</text>
<line x1="328.63" x2="328.63" y1="615.2" y2="618.4000000000001" stroke="#303030" stroke-width="1.15"/>
<text transform="translate(327.53,627.80) rotate(-45)" x="0" y="0" font-size="8.6" text-anchor="end" textLength="27.28" lengthAdjust="spacingAndGlyphs" fill="#000">1,2,7,8</text>
<line x1="339.00" x2="339.00" y1="615.2" y2="618.4000000000001" stroke="#303030" stroke-width="1.15"/>
<text transform="translate(337.90,627.80) rotate(-45)" x="0" y="0" font-size="8.6" text-anchor="end" textLength="27.28" lengthAdjust="spacingAndGlyphs" fill="#000">1,4,5,8</text>
<line x1="349.38" x2="349.38" y1="615.2" y2="618.4000000000001" stroke="#303030" stroke-width="1.15"/>
<text transform="translate(348.28,627.80) rotate(-45)" x="0" y="0" font-size="8.6" text-anchor="end" textLength="27.28" lengthAdjust="spacingAndGlyphs" fill="#000">1,4,6,7</text>
<line x1="359.75" x2="359.75" y1="615.2" y2="618.4000000000001" stroke="#303030" stroke-width="1.15"/>
<text transform="translate(358.65,627.80) rotate(-45)" x="0" y="0" font-size="8.6" text-anchor="end" textLength="27.28" lengthAdjust="spacingAndGlyphs" fill="#000">2,3,6,7</text>
<line x1="370.12" x2="370.12" y1="615.2" y2="618.4000000000001" stroke="#303030" stroke-width="1.15"/>
<text transform="translate(369.02,627.80) rotate(-45)" x="0" y="0" font-size="8.6" text-anchor="end" textLength="34.73" lengthAdjust="spacingAndGlyphs" fill="#000">1,2,3,4,5</text>
<line x1="380.49" x2="380.49" y1="615.2" y2="618.4000000000001" stroke="#303030" stroke-width="1.15"/>
<text transform="translate(379.39,627.80) rotate(-45)" x="0" y="0" font-size="8.6" text-anchor="end" textLength="34.73" lengthAdjust="spacingAndGlyphs" fill="#000">1,2,3,4,6</text>
<line x1="390.87" x2="390.87" y1="615.2" y2="618.4000000000001" stroke="#303030" stroke-width="1.15"/>
<text transform="translate(389.77,627.80) rotate(-45)" x="0" y="0" font-size="8.6" text-anchor="end" textLength="34.73" lengthAdjust="spacingAndGlyphs" fill="#000">1,2,3,6,7</text>
<line x1="401.24" x2="401.24" y1="615.2" y2="618.4000000000001" stroke="#303030" stroke-width="1.15"/>
<text transform="translate(400.14,627.80) rotate(-45)" x="0" y="0" font-size="8.6" text-anchor="end" textLength="34.73" lengthAdjust="spacingAndGlyphs" fill="#000">1,2,4,5,7</text>
<line x1="411.61" x2="411.61" y1="615.2" y2="618.4000000000001" stroke="#303030" stroke-width="1.15"/>
<text transform="translate(410.51,627.80) rotate(-45)" x="0" y="0" font-size="8.6" text-anchor="end" textLength="34.73" lengthAdjust="spacingAndGlyphs" fill="#000">1,2,4,5,8</text>
<line x1="421.98" x2="421.98" y1="615.2" y2="618.4000000000001" stroke="#303030" stroke-width="1.15"/>
<text transform="translate(420.88,627.80) rotate(-45)" x="0" y="0" font-size="8.6" text-anchor="end" textLength="34.73" lengthAdjust="spacingAndGlyphs" fill="#000">1,2,4,6,7</text>
<line x1="432.35" x2="432.35" y1="615.2" y2="618.4000000000001" stroke="#303030" stroke-width="1.15"/>
<text transform="translate(431.25,627.80) rotate(-45)" x="0" y="0" font-size="8.6" text-anchor="end" textLength="42.17" lengthAdjust="spacingAndGlyphs" fill="#000">1,2,3,4,5,6</text>
<line x1="442.73" x2="442.73" y1="615.2" y2="618.4000000000001" stroke="#303030" stroke-width="1.15"/>
<text transform="translate(441.63,627.80) rotate(-45)" x="0" y="0" font-size="8.6" text-anchor="end" textLength="42.17" lengthAdjust="spacingAndGlyphs" fill="#000">1,2,3,4,5,8</text>
<line x1="453.10" x2="453.10" y1="615.2" y2="618.4000000000001" stroke="#303030" stroke-width="1.15"/>
<text transform="translate(452.00,627.80) rotate(-45)" x="0" y="0" font-size="8.6" text-anchor="end" textLength="42.17" lengthAdjust="spacingAndGlyphs" fill="#000">1,2,3,5,6,7</text>
<line x1="463.47" x2="463.47" y1="615.2" y2="618.4000000000001" stroke="#303030" stroke-width="1.15"/>
<text transform="translate(462.37,627.80) rotate(-45)" x="0" y="0" font-size="8.6" text-anchor="end" textLength="49.61" lengthAdjust="spacingAndGlyphs" fill="#000">1,2,3,4,5,6,7</text>
<line x1="473.84" x2="473.84" y1="615.2" y2="618.4000000000001" stroke="#303030" stroke-width="1.15"/>
<text transform="translate(472.74,627.80) rotate(-45)" x="0" y="0" font-size="8.6" text-anchor="end" textLength="49.61" lengthAdjust="spacingAndGlyphs" fill="#000">1,2,3,4,5,6,8</text>
<line x1="484.21" x2="484.21" y1="615.2" y2="618.4000000000001" stroke="#303030" stroke-width="1.15"/>
<text transform="translate(483.11,627.80) rotate(-45)" x="0" y="0" font-size="8.6" text-anchor="end" textLength="57.05" lengthAdjust="spacingAndGlyphs" fill="#000">1,2,3,4,5,6,7,8</text>
<text x="-0.5" y="471.0" font-size="10.4" textLength="8.99" lengthAdjust="spacingAndGlyphs" fill="#000">c)</text>
<text x="198.0" y="660.60" font-size="11.3" textLength="115.5" lengthAdjust="spacingAndGlyphs" fill="#000">Substituted position</text>
<g transform="translate(11.8,539.90) rotate(-90)"><text x="0" y="0" font-size="10.6" text-anchor="middle" fill="#000" textLength="110.5" lengthAdjust="spacingAndGlyphs">Redox potential E<tspan font-size="7.3" dy="-4.2">0</tspan><tspan dy="4.2"> / V</tspan></text></g>
<rect x="110.7" y="669.6" width="313.8" height="32.8" rx="2.5" fill="#fff" fill-opacity="0.8" stroke="#cccccc" stroke-width="0.9"/>
<line x1="114.3" x2="135" y1="677.2" y2="677.2" stroke="#333" stroke-width="1.4"/>
<circle cx="124.60" cy="692.80" r="2.74" fill="#0d5ea8"/>
<path d="M202.40,680.50L205.20,674.90L199.60,674.90Z" fill="#22d022"/>
<path d="M202.40,690.00L205.20,695.60L199.60,695.60Z" fill="#d42a2a"/>
<path d="M285.80,677.70L291.40,674.90L291.40,680.50Z" fill="#a0229f"/>
<path d="M291.40,692.80L285.80,690.00L285.80,695.60Z" fill="#d07c28"/>
<rect x="363.62" y="675.12" width="5.15" height="5.15" fill="#20bfca"/>
<circle cx="366.20" cy="692.80" r="2.74" fill="#0d5a18"/>
<text x="142.90" y="681.00" font-size="10.1" text-anchor="start" textLength="21.71" lengthAdjust="spacingAndGlyphs" fill="#000">R=H</text>
<text x="142.90" y="696.00" font-size="10.1" text-anchor="start" textLength="29.18" lengthAdjust="spacingAndGlyphs" fill="#000">R=OH</text>
<text x="221.70" y="681.00" font-size="10.1" text-anchor="start" textLength="20.03" lengthAdjust="spacingAndGlyphs" fill="#000">R=F</text>
<text x="221.70" y="696.00" font-size="10.1" text-anchor="start" textLength="36.08" lengthAdjust="spacingAndGlyphs" fill="#000">R=OMe</text>
<text x="306.50" y="681.00" font-size="10.1" text-anchor="start" textLength="28.30" lengthAdjust="spacingAndGlyphs" fill="#000">R=CN</text>
<text x="306.50" y="696.00" font-size="10.1" text-anchor="start" textLength="28.60" lengthAdjust="spacingAndGlyphs" fill="#000">R=Me</text>
<text x="384.6" y="681.0" font-size="10.1" fill="#000" textLength="28.07" lengthAdjust="spacingAndGlyphs">R=SO</text><text x="413.9" y="683.6" font-size="6.8" fill="#000">3</text><text x="417.0" y="675.0" font-size="6.8" fill="#000">−</text>
<text x="384.6" y="696.0" font-size="10.1" fill="#000"><tspan textLength="29.15" lengthAdjust="spacingAndGlyphs">R=NO</tspan><tspan font-size="6.6" dy="2.2">2</tspan></text>
</svg>
</body></html>
